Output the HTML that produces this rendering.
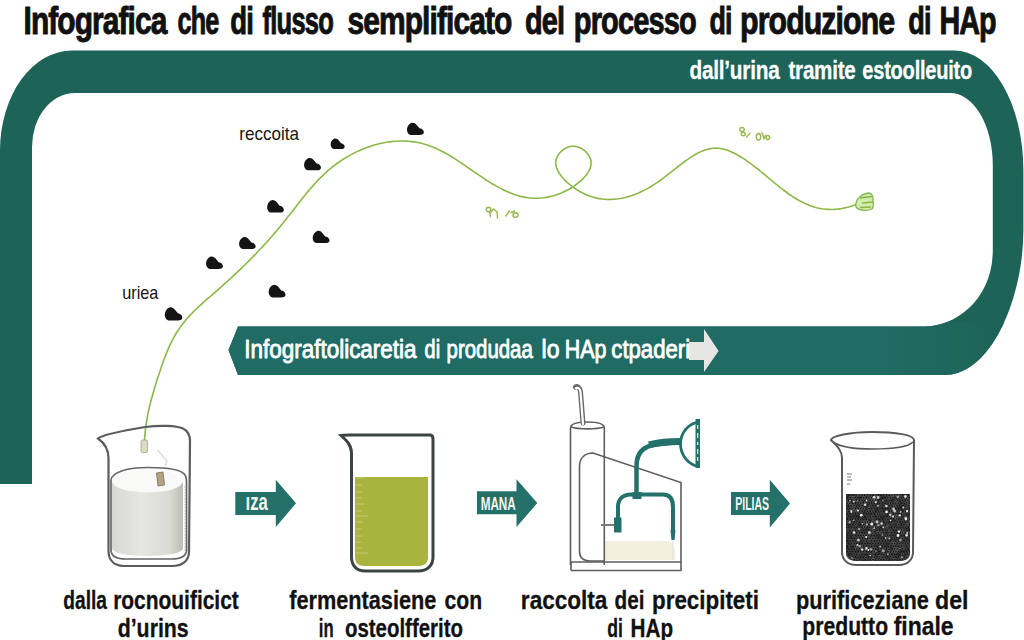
<!DOCTYPE html>
<html><head><meta charset="utf-8">
<style>
html,body{margin:0;padding:0;background:#ffffff;width:1024px;height:640px;overflow:hidden;}
svg{display:block;}
text{font-family:"Liberation Sans",sans-serif;}
</style></head>
<body>
<svg width="1024" height="640" viewBox="0 0 1024 640">
<defs>
<linearGradient id="cyl" x1="0" x2="1" y1="0" y2="0">
<stop offset="0" stop-color="#d8d8d2"/><stop offset="0.4" stop-color="#e6e6e2"/><stop offset="0.8" stop-color="#dcdcd6"/><stop offset="1" stop-color="#bdbdb5"/>
</linearGradient>
<clipPath id="b4clip"><path d="M846,494 L910,494 L910,553 C910,559 905,561 899,561 L857,561 C851,561 846,559 846,553 Z"/></clipPath>
<linearGradient id="bandlow" gradientUnits="userSpaceOnUse" x1="228" y1="0" x2="1023" y2="0">
<stop offset="0" stop-color="#206c65"/><stop offset="0.8" stop-color="#206c65"/><stop offset="0.97" stop-color="#1e6357"/>
</linearGradient>
<clipPath id="lowclip"><rect x="200" y="322" width="824" height="60"/></clipPath>
</defs>
<!-- band -->
<path fill="#1e6357" d="M0,484 L0,150 A72,100 0 0 1 72,50.5 L954,50.5 A69.4,120 0 0 1 1023.4,170 L1023.4,230 C1023.4,300 990,375 945,375 L238,375 L228.5,350 L238,326.5 L925,326.5 C955,326.5 992.8,300 992.8,250 L992.8,165 A42.8,72 0 0 0 950,93 L75,93 A43,54 0 0 0 32,147 L32,484 Z"/>
<path fill="url(#bandlow)" clip-path="url(#lowclip)" d="M0,484 L0,150 A72,100 0 0 1 72,50.5 L954,50.5 A69.4,120 0 0 1 1023.4,170 L1023.4,230 C1023.4,300 990,375 945,375 L238,375 L228.5,350 L238,326.5 L925,326.5 C955,326.5 992.8,300 992.8,250 L992.8,165 A42.8,72 0 0 0 950,93 L75,93 A43,54 0 0 0 32,147 L32,484 Z"/>
<path fill="#e6e6e4" d="M689,342 L704,342 L704,329 L718.6,351 L704,372 L704,360 L689,360 Z"/>
<!-- curve -->
<path fill="none" stroke="#8cb848" stroke-width="1.6" stroke-linecap="round" d="M144.5,441.0 L144.6,438.4 L144.8,435.8 L145.0,433.2 L145.3,430.7 L145.6,428.1 L145.9,425.5 L146.3,423.0 L146.7,420.5 L147.2,417.9 L147.6,415.4 L148.2,412.9 L148.7,410.3 L149.3,407.8 L149.8,405.3 L150.5,402.8 L151.1,400.3 L151.8,397.8 L152.5,395.3 L153.2,392.8 L153.9,390.3 L154.6,387.8 L155.4,385.3 L156.2,382.8 L156.9,380.3 L157.7,377.8 L158.5,375.4 L159.4,372.9 L160.2,370.4 L161.0,367.9 L161.9,365.4 L162.8,362.9 L163.6,360.5 L164.6,358.0 L165.5,355.6 L166.5,353.1 L167.5,350.7 L168.5,348.3 L169.5,346.0 L170.6,343.6 L171.8,341.3 L173.0,339.0 L174.2,336.8 L175.5,334.5 L176.8,332.3 L178.2,330.2 L179.6,328.1 L181.1,326.0 L182.6,323.9 L184.2,321.9 L185.8,320.0 L187.5,318.0 L189.3,316.1 L191.0,314.2 L192.8,312.4 L194.7,310.5 L196.6,308.7 L198.4,306.9 L200.4,305.2 L202.3,303.4 L204.3,301.7 L206.2,299.9 L208.2,298.2 L210.2,296.5 L212.2,294.8 L214.1,293.1 L216.1,291.3 L218.1,289.6 L220.1,287.9 L222.0,286.2 L223.9,284.4 L225.9,282.7 L227.8,281.0 L229.7,279.2 L231.6,277.5 L233.5,275.7 L235.4,273.9 L237.3,272.2 L239.2,270.4 L241.0,268.6 L242.9,266.8 L244.7,265.0 L246.5,263.2 L248.4,261.4 L250.2,259.6 L252.0,257.7 L253.8,255.9 L255.6,254.1 L257.3,252.2 L259.1,250.3 L260.9,248.5 L262.6,246.6 L264.3,244.7 L266.1,242.8 L267.8,240.9 L269.5,239.0 L271.2,237.0 L272.9,235.1 L274.6,233.1 L276.3,231.2 L277.9,229.2 L279.6,227.2 L281.2,225.2 L282.9,223.2 L284.5,221.2 L286.1,219.2 L287.7,217.1 L289.4,215.1 L291.0,213.0 L292.6,211.0 L294.2,208.9 L295.8,206.9 L297.4,204.8 L299.0,202.7 L300.6,200.7 L302.2,198.6 L303.9,196.6 L305.5,194.6 L307.2,192.5 L308.8,190.5 L310.5,188.5 L312.2,186.6 L314.0,184.6 L315.7,182.7 L317.5,180.8 L319.3,178.9 L321.1,177.1 L323.0,175.3 L324.9,173.5 L326.8,171.7 L328.8,170.0 L330.8,168.3 L332.8,166.7 L334.8,165.1 L336.9,163.5 L339.1,162.0 L341.2,160.6 L343.4,159.1 L345.7,157.7 L347.9,156.4 L350.2,155.1 L352.5,153.9 L354.8,152.7 L357.1,151.6 L359.5,150.5 L361.9,149.4 L364.3,148.5 L366.7,147.5 L369.1,146.7 L371.6,145.9 L374.0,145.1 L376.5,144.4 L379.0,143.8 L381.5,143.2 L384.0,142.7 L386.5,142.3 L389.0,141.9 L391.5,141.6 L394.0,141.3 L396.5,141.2 L399.0,141.0 L401.5,141.0 L404.1,141.0 L406.6,141.1 L409.0,141.3 L411.5,141.6 L414.0,141.9 L416.5,142.3 L419.0,142.8 L421.4,143.3 L423.8,144.0 L426.2,144.7 L428.7,145.5 L431.0,146.4 L433.4,147.3 L435.8,148.3 L438.1,149.4 L440.4,150.5 L442.8,151.7 L445.1,153.0 L447.4,154.3 L449.7,155.6 L452.0,157.0 L454.2,158.4 L456.5,159.9 L458.8,161.4 L461.0,162.9 L463.3,164.4 L465.5,165.9 L467.8,167.5 L470.0,169.0 L472.3,170.6 L474.5,172.1 L476.8,173.7 L479.0,175.2 L481.3,176.7 L483.5,178.2 L485.8,179.7 L488.1,181.1 L490.3,182.6 L492.6,184.0 L494.9,185.3 L497.2,186.6 L499.5,187.9 L501.8,189.1 L504.1,190.2 L506.5,191.3 L508.8,192.3 L511.2,193.3 L513.6,194.2 L516.0,195.0 L518.4,195.7 L520.8,196.4 L523.2,196.9 L525.7,197.4 L528.2,197.8 L530.7,198.0 L533.2,198.2 L535.7,198.3 L538.3,198.2 L540.8,198.0 L543.4,197.8 L546.0,197.4 L548.5,196.9 L551.1,196.3 L553.7,195.7 L556.3,194.8 L558.8,193.9 L561.4,192.9 L563.9,191.8 L566.4,190.5 L568.9,189.2 L571.3,187.7 L573.8,186.2 L576.2,184.5 L578.5,182.7 L580.7,180.8 L582.8,178.9 L584.7,176.8 L586.5,174.8 L588.0,172.6 L589.2,170.4 L590.2,168.2 L590.8,166.0 L591.1,163.8 L591.1,161.5 L590.6,159.3 L589.7,157.1 L588.5,155.0 L587.0,153.0 L585.2,151.2 L583.2,149.6 L581.0,148.2 L578.7,147.2 L576.3,146.5 L573.9,146.2 L571.4,146.3 L569.0,146.8 L566.7,147.7 L564.4,148.9 L562.3,150.4 L560.5,152.1 L558.9,154.0 L557.5,156.1 L556.5,158.3 L555.9,160.6 L555.7,162.9 L555.9,165.3 L556.5,167.6 L557.4,169.9 L558.6,172.3 L560.1,174.6 L561.8,176.8 L563.7,179.0 L565.8,181.1 L568.0,183.1 L570.3,185.0 L572.6,186.9 L575.0,188.5 L577.4,190.1 L579.8,191.5 L582.2,192.8 L584.6,194.0 L587.0,195.0 L589.5,196.0 L591.9,196.8 L594.4,197.5 L596.8,198.1 L599.3,198.6 L601.8,199.0 L604.2,199.2 L606.7,199.4 L609.2,199.5 L611.7,199.4 L614.1,199.3 L616.6,199.0 L619.1,198.7 L621.5,198.3 L624.0,197.8 L626.5,197.2 L628.9,196.5 L631.4,195.7 L633.8,194.8 L636.3,193.9 L638.7,192.9 L641.1,191.8 L643.5,190.6 L645.9,189.4 L648.3,188.1 L650.7,186.7 L653.0,185.2 L655.4,183.7 L657.7,182.1 L660.0,180.5 L662.3,178.8 L664.6,177.1 L666.9,175.4 L669.1,173.6 L671.4,171.8 L673.6,170.1 L675.9,168.3 L678.1,166.5 L680.3,164.8 L682.5,163.1 L684.7,161.5 L687.0,159.9 L689.2,158.3 L691.4,156.9 L693.6,155.5 L695.8,154.2 L698.0,153.0 L700.2,151.9 L702.5,151.0 L704.7,150.1 L706.9,149.4 L709.2,148.9 L711.4,148.5 L713.7,148.2 L715.9,148.1 L718.2,148.2 L720.5,148.5 L722.8,149.0 L725.1,149.6 L727.5,150.3 L729.8,151.2 L732.1,152.2 L734.4,153.3 L736.7,154.5 L739.0,155.8 L741.3,157.2 L743.6,158.7 L745.9,160.2 L748.1,161.8 L750.4,163.4 L752.6,165.1 L754.8,166.8 L757.0,168.5 L759.1,170.2 L761.3,172.0 L763.4,173.7 L765.5,175.4 L767.6,177.2 L769.7,178.9 L771.8,180.6 L773.8,182.3 L775.9,184.0 L778.0,185.7 L780.0,187.3 L782.1,188.9 L784.1,190.5 L786.2,192.0 L788.2,193.5 L790.3,195.0 L792.4,196.4 L794.5,197.7 L796.6,199.0 L798.7,200.3 L800.9,201.4 L803.0,202.5 L805.2,203.6 L807.4,204.6 L809.7,205.5 L811.9,206.3 L814.2,207.0 L816.5,207.7 L818.9,208.2 L821.3,208.7 L823.7,209.0 L826.2,209.3 L828.7,209.4 L831.2,209.5 L833.8,209.4 L836.4,209.2 L839.1,208.9 L841.8,208.5 L844.6,207.9 L847.5,207.2 L850.3,206.4 L853.3,205.5 L856.3,204.4"/>
<path fill="#d2ecae" stroke="#86b64c" stroke-width="1.3" d="M856,203 C857,198 862,194 868,193 C872,193 873.5,196 873,200 C873.5,203 873.5,207 872,209 C868,211 860,211 857,208 C855.5,206.5 855.5,204.5 856,203 Z"/>
<path fill="none" stroke="#86b64c" stroke-width="1.4" d="M860,198 L872,196.5 M862,203 L873,202 M860,207.5 L871,207"/>
<g fill="none" stroke="#98b84e" stroke-width="1.4" stroke-linecap="round">
<circle cx="488.5" cy="209.5" r="2.3"/>
<path d="M489.5,211.5 L490.5,216.5 M490.5,212.5 L493.5,209 L496,211 M497,211.5 L497.5,218"/>
<path d="M505.8,216 L509.5,211 M511,212.5 L514.5,211"/>
<ellipse cx="515.5" cy="215" rx="2.6" ry="2.2"/>
<ellipse cx="742" cy="129.5" rx="2.2" ry="2"/>
<ellipse cx="743.3" cy="134" rx="2" ry="1.8"/>
<path d="M746.5,137 L749.8,133.5"/>
<ellipse cx="758.5" cy="136.8" rx="2.2" ry="3.3"/>
<path d="M762,133 L764,138.5 L765.5,135.5"/>
<ellipse cx="767.8" cy="137.5" rx="1.8" ry="2"/>
</g>
<!-- blobs -->
<path transform="translate(329.7,138.2) scale(0.839,0.823)" fill="#141414" d="M2.2,11.2 C0.3,8.5 1,3.2 4.8,1 C7,-0.2 9.2,0.8 10.8,2.8 L13.6,6.2 C16.4,6.6 18.2,8.8 17.8,10.9 C17.4,12.6 15.6,13 13.5,13 L5,13 C3.6,13 2.8,12.2 2.2,11.2 Z"/><path transform="translate(302.9,157.5) scale(1.011,0.977)" fill="#141414" d="M2.2,11.2 C0.3,8.5 1,3.2 4.8,1 C7,-0.2 9.2,0.8 10.8,2.8 L13.6,6.2 C16.4,6.6 18.2,8.8 17.8,10.9 C17.4,12.6 15.6,13 13.5,13 L5,13 C3.6,13 2.8,12.2 2.2,11.2 Z"/><path transform="translate(266.0,199.4) scale(1.000,1.008)" fill="#141414" d="M2.2,11.2 C0.3,8.5 1,3.2 4.8,1 C7,-0.2 9.2,0.8 10.8,2.8 L13.6,6.2 C16.4,6.6 18.2,8.8 17.8,10.9 C17.4,12.6 15.6,13 13.5,13 L5,13 C3.6,13 2.8,12.2 2.2,11.2 Z"/><path transform="translate(238.0,236.5) scale(0.989,0.962)" fill="#141414" d="M2.2,11.2 C0.3,8.5 1,3.2 4.8,1 C7,-0.2 9.2,0.8 10.8,2.8 L13.6,6.2 C16.4,6.6 18.2,8.8 17.8,10.9 C17.4,12.6 15.6,13 13.5,13 L5,13 C3.6,13 2.8,12.2 2.2,11.2 Z"/><path transform="translate(204.9,256.0) scale(1.011,0.992)" fill="#141414" d="M2.2,11.2 C0.3,8.5 1,3.2 4.8,1 C7,-0.2 9.2,0.8 10.8,2.8 L13.6,6.2 C16.4,6.6 18.2,8.8 17.8,10.9 C17.4,12.6 15.6,13 13.5,13 L5,13 C3.6,13 2.8,12.2 2.2,11.2 Z"/><path transform="translate(311.5,230.4) scale(1.011,0.977)" fill="#141414" d="M2.2,11.2 C0.3,8.5 1,3.2 4.8,1 C7,-0.2 9.2,0.8 10.8,2.8 L13.6,6.2 C16.4,6.6 18.2,8.8 17.8,10.9 C17.4,12.6 15.6,13 13.5,13 L5,13 C3.6,13 2.8,12.2 2.2,11.2 Z"/><path transform="translate(267.5,284.3) scale(1.011,1.008)" fill="#141414" d="M2.2,11.2 C0.3,8.5 1,3.2 4.8,1 C7,-0.2 9.2,0.8 10.8,2.8 L13.6,6.2 C16.4,6.6 18.2,8.8 17.8,10.9 C17.4,12.6 15.6,13 13.5,13 L5,13 C3.6,13 2.8,12.2 2.2,11.2 Z"/><path transform="translate(163.6,306.7) scale(1.050,1.054)" fill="#141414" d="M2.2,11.2 C0.3,8.5 1,3.2 4.8,1 C7,-0.2 9.2,0.8 10.8,2.8 L13.6,6.2 C16.4,6.6 18.2,8.8 17.8,10.9 C17.4,12.6 15.6,13 13.5,13 L5,13 C3.6,13 2.8,12.2 2.2,11.2 Z"/><path transform="translate(405.8,122.3) scale(1.011,0.969)" fill="#141414" d="M2.2,11.2 C0.3,8.5 1,3.2 4.8,1 C7,-0.2 9.2,0.8 10.8,2.8 L13.6,6.2 C16.4,6.6 18.2,8.8 17.8,10.9 C17.4,12.6 15.6,13 13.5,13 L5,13 C3.6,13 2.8,12.2 2.2,11.2 Z"/>
<!-- labels -->


<!-- beaker 1 -->
<path fill="none" stroke="#5c5c5c" stroke-width="2.2" d="M98,438.5 C101,436 115,432 145,427 C160,425 176,425.5 183,428.5 C188,431 190,435 190,441 L189,552 C189,561 182,566 172,566 L125,566 C114,566 108.5,560 108.5,551 L108.5,458 C108.5,448 103,442 98,438.5 Z"/>
<path fill="url(#cyl)" d="M112,481 L183,481 L183,548 C183,553 168,556 147.5,556 C127,556 112,553 112,548 Z"/>
<ellipse cx="147.5" cy="481" rx="35.5" ry="11.5" fill="#f9f9f7"/>
<path fill="none" stroke="#666" stroke-width="1.7" d="M111,480 C112,472 128,467.5 148,467.5 C168,467.5 182,470 185,475 C186.5,477 186.5,479 186.5,483 L186.5,550 C186.5,556 181,559 171,559 L126,559 C116,559 111,556 111,550 Z"/>
<path fill="none" stroke="#b8b8b0" stroke-width="1" stroke-dasharray="1.5,1.5" d="M185,486 L185,552"/>
<rect x="141" y="440" width="6.5" height="12.5" rx="1.5" fill="#dcdcc4" stroke="#a6a48a" stroke-width="0.8"/>
<path d="M157.5,450 L167,461 L165,466" fill="none" stroke="#dcdcd0" stroke-width="1.3"/>
<path d="M156.5,473 L163,472 L164.5,485 L158,486 Z" fill="#b0a282" stroke="#7a6e52" stroke-width="0.8"/>

<!-- arrow 1 -->
<path fill="#237169" d="M235.3,491.9 L275.8,491.9 L275.8,479.8 L296,503.35 L275.8,526.9 L275.8,514.9 L235.3,514.9 Z"/>

<!-- beaker 2 -->
<path fill="#a9b43e" d="M355,477 L428,477 L428,558 C428,563 424,566 419,566 L364,566 C359,566 355,563 355,558 Z"/>
<g stroke="#c9cf80" stroke-width="0.8">
<path d="M356,478 h8 M356,485 h6 M356,492 h7 M356,498 h6 M356,504 h8 M356,511 h6 M356,516 h12 M356,522 h7 M356,529 h6 M356,536 h7 M356,542 h6 M356,548 h6 M356,553 h12"/>
</g>
<path fill="none" stroke="#3d4343" stroke-width="3" d="M341,435.5 C343,435 346,435 350,435 L430,435 C432,435 433,437 433,439 L433,557 C433,566 427,571 418,571 L365,571 C357,571 351.5,566 351.5,557 L351.5,453 C351.5,445 346,440 341,435.5 Z"/>

<!-- arrow 2 -->
<path fill="#237169" d="M477,491.3 L516.5,491.3 L516.5,479.3 L537.3,503.1 L516.5,526.9 L516.5,514.3 L477,514.3 Z"/>

<!-- apparatus -->
<path fill="#f3f1de" d="M604,541 L666,541 C671,541 675,545 675,551 L675,560 L604,560 Z"/>
<g fill="none" stroke="#5e5e5e" stroke-width="1.6">
<path d="M570.5,565 L570.5,428 C570.5,424 576,422 587.5,422 C599,422 604.3,424 604.3,428 L604.3,565"/>
<path d="M571,427 C578,429.5 597,429.5 604,427"/>
<path d="M604,561 L590,561 C583,561 579.5,557 579.5,551 L579.5,466 C579.5,458 585,453 593,453 L681,482.5 L681,571"/>
<path d="M571,562 L681,562 M571,570.5 L681,570.5 M571,562 L571,570.5"/>
</g>
<path fill="none" stroke="#6a6a6a" stroke-width="5" stroke-linecap="round" d="M583,423 L580.5,392 C580,387 577,386 575.5,387"/>
<path fill="none" stroke="#ffffff" stroke-width="2.2" stroke-linecap="round" d="M583,424 L580.5,392 C580,388 578,387.5 576,388"/>
<g fill="none" stroke="#24706a" stroke-linecap="butt">
<path stroke-width="4" d="M618,522 L618,507 C618,499 623,494.5 631,494.5 L663,494.5 C670,494.5 673,499 673,507 L673,533"/>
<path stroke-width="4.5" d="M636.5,495 L636.5,466 C636.5,452 644,446 656,444.5 L681,441.5"/>
<path stroke-width="7" d="M649,444.8 C660,442 670,441.5 681,441.5"/>
<path stroke-width="2.8" d="M696,422.5 C685,426 680.5,436 680.5,444 C680.5,452 685,462 696,466"/>
</g>
<path fill="#24706a" d="M670.5,530 L675.5,530 L674.5,540 L671.5,540 Z"/>
<rect x="614" y="517.5" width="7.5" height="15" fill="#24706a"/>
<rect x="632.5" y="492" width="9" height="7" fill="#24706a"/>
<path stroke="#7a7a7a" stroke-width="2" d="M601,525 L614,525"/>
<rect x="695.5" y="419" width="4.5" height="49" fill="#24706a"/>
<path stroke="#e8f0ee" stroke-width="1.2" d="M697.7,425 v4 M697.7,433 v5 M697.7,442 v3 M697.7,449 v5 M697.7,457 v4"/>
<path stroke="#e0e0e0" stroke-width="1" d="M673,540 L673,560"/>

<!-- arrow 3 -->
<path fill="#237169" d="M731,491.9 L769.8,491.9 L769.8,479.8 L790,503.6 L769.8,527.4 L769.8,514.9 L731,514.9 Z"/>

<!-- beaker 4 -->
<path fill="#ffffff" stroke="#5a5a5a" stroke-width="2" d="M831,440 C831,436 850,432 872,432 C896,432 914,435 914,440 L913,552 C913,560 907,565 899,565 L856,565 C848,565 842,560 842,552 L842,458 C842,450 836,445 831,440 Z"/>
<path fill="none" stroke="#5a5a5a" stroke-width="1.6" d="M833,442 C840,447 856,449 873,449 C892,449 908,447 913,442"/>
<g clip-path="url(#b4clip)">
<rect x="846" y="494" width="64" height="67" fill="#101010"/>
<circle cx="845.8" cy="495.0" r="1.25" fill="none" stroke="rgb(85,85,85)" stroke-width="0.6"/><circle cx="848.8" cy="495.1" r="1.25" fill="none" stroke="rgb(70,70,70)" stroke-width="0.6"/><circle cx="851.0" cy="495.3" r="1.25" fill="none" stroke="rgb(80,80,80)" stroke-width="0.6"/><circle cx="853.9" cy="495.4" r="1.25" fill="none" stroke="rgb(89,89,89)" stroke-width="0.6"/><circle cx="857.1" cy="495.0" r="1.25" fill="none" stroke="rgb(98,98,98)" stroke-width="0.6"/><circle cx="859.2" cy="495.1" r="1.25" fill="none" stroke="rgb(114,114,114)" stroke-width="0.6"/><circle cx="862.2" cy="495.2" r="1.25" fill="none" stroke="rgb(100,100,100)" stroke-width="0.6"/><circle cx="864.6" cy="495.2" r="1.25" fill="none" stroke="rgb(95,95,95)" stroke-width="0.6"/><circle cx="867.4" cy="494.6" r="1.25" fill="none" stroke="rgb(114,114,114)" stroke-width="0.6"/><circle cx="870.3" cy="495.2" r="1.25" fill="none" stroke="rgb(115,115,115)" stroke-width="0.6"/><circle cx="873.2" cy="495.3" r="1.25" fill="none" stroke="rgb(86,86,86)" stroke-width="0.6"/><circle cx="875.9" cy="495.0" r="1.25" fill="none" stroke="rgb(122,122,122)" stroke-width="0.6"/><circle cx="878.7" cy="494.7" r="1.25" fill="none" stroke="rgb(74,74,74)" stroke-width="0.6"/><circle cx="880.9" cy="495.4" r="1.25" fill="none" stroke="rgb(87,87,87)" stroke-width="0.6"/><circle cx="883.9" cy="494.8" r="1.25" fill="none" stroke="rgb(91,91,91)" stroke-width="0.6"/><circle cx="886.4" cy="494.9" r="1.25" fill="none" stroke="rgb(95,95,95)" stroke-width="0.6"/><circle cx="889.3" cy="495.3" r="1.25" fill="none" stroke="rgb(100,100,100)" stroke-width="0.6"/><circle cx="892.2" cy="495.3" r="1.25" fill="none" stroke="rgb(133,133,133)" stroke-width="0.6"/><circle cx="894.7" cy="494.7" r="1.25" fill="none" stroke="rgb(114,114,114)" stroke-width="0.6"/><circle cx="897.7" cy="495.3" r="1.25" fill="none" stroke="rgb(94,94,94)" stroke-width="0.6"/><circle cx="900.2" cy="494.8" r="1.25" fill="none" stroke="rgb(111,111,111)" stroke-width="0.6"/><circle cx="902.8" cy="494.8" r="1.25" fill="none" stroke="rgb(70,70,70)" stroke-width="0.6"/><circle cx="905.7" cy="495.4" r="1.25" fill="none" stroke="rgb(71,71,71)" stroke-width="0.6"/><circle cx="908.3" cy="494.9" r="1.25" fill="none" stroke="rgb(75,75,75)" stroke-width="0.6"/><circle cx="910.6" cy="495.2" r="1.25" fill="none" stroke="rgb(115,115,115)" stroke-width="0.6"/><circle cx="847.0" cy="497.8" r="1.25" fill="none" stroke="rgb(68,68,68)" stroke-width="0.6"/><circle cx="850.2" cy="497.6" r="1.25" fill="none" stroke="rgb(116,116,116)" stroke-width="0.6"/><circle cx="853.1" cy="497.7" r="1.25" fill="none" stroke="rgb(137,137,137)" stroke-width="0.6"/><circle cx="855.3" cy="497.4" r="1.25" fill="none" stroke="rgb(96,96,96)" stroke-width="0.6"/><circle cx="857.8" cy="497.5" r="1.25" fill="none" stroke="rgb(86,86,86)" stroke-width="0.6"/><circle cx="860.9" cy="497.4" r="1.25" fill="none" stroke="rgb(68,68,68)" stroke-width="0.6"/><circle cx="863.8" cy="497.6" r="1.25" fill="none" stroke="rgb(125,125,125)" stroke-width="0.6"/><circle cx="866.6" cy="497.6" r="1.25" fill="none" stroke="rgb(89,89,89)" stroke-width="0.6"/><circle cx="869.0" cy="497.8" r="1.25" fill="none" stroke="rgb(95,95,95)" stroke-width="0.6"/><circle cx="871.7" cy="497.8" r="1.25" fill="none" stroke="rgb(123,123,123)" stroke-width="0.6"/><circle cx="874.4" cy="497.6" r="1.25" fill="none" stroke="rgb(103,103,103)" stroke-width="0.6"/><circle cx="876.8" cy="497.5" r="1.25" fill="none" stroke="rgb(129,129,129)" stroke-width="0.6"/><circle cx="879.8" cy="497.7" r="1.25" fill="none" stroke="rgb(64,64,64)" stroke-width="0.6"/><circle cx="882.4" cy="497.8" r="1.25" fill="none" stroke="rgb(65,65,65)" stroke-width="0.6"/><circle cx="885.2" cy="497.8" r="1.25" fill="none" stroke="rgb(69,69,69)" stroke-width="0.6"/><circle cx="888.0" cy="497.7" r="1.25" fill="none" stroke="rgb(100,100,100)" stroke-width="0.6"/><circle cx="890.4" cy="497.9" r="1.25" fill="none" stroke="rgb(104,104,104)" stroke-width="0.6"/><circle cx="892.9" cy="497.3" r="1.25" fill="none" stroke="rgb(100,100,100)" stroke-width="0.6"/><circle cx="896.3" cy="497.5" r="1.25" fill="none" stroke="rgb(88,88,88)" stroke-width="0.6"/><circle cx="898.7" cy="497.6" r="1.25" fill="none" stroke="rgb(84,84,84)" stroke-width="0.6"/><circle cx="901.2" cy="497.6" r="1.25" fill="none" stroke="rgb(95,95,95)" stroke-width="0.6"/><circle cx="903.9" cy="497.6" r="1.25" fill="none" stroke="rgb(106,106,106)" stroke-width="0.6"/><circle cx="906.4" cy="497.8" r="1.25" fill="none" stroke="rgb(104,104,104)" stroke-width="0.6"/><circle cx="909.3" cy="497.5" r="1.25" fill="none" stroke="rgb(109,109,109)" stroke-width="0.6"/><circle cx="911.9" cy="497.4" r="1.25" fill="none" stroke="rgb(87,87,87)" stroke-width="0.6"/><circle cx="846.2" cy="500.1" r="1.25" fill="none" stroke="rgb(82,82,82)" stroke-width="0.6"/><circle cx="848.6" cy="500.7" r="1.25" fill="none" stroke="rgb(88,88,88)" stroke-width="0.6"/><circle cx="851.7" cy="500.1" r="1.25" fill="none" stroke="rgb(83,83,83)" stroke-width="0.6"/><circle cx="854.2" cy="500.7" r="1.25" fill="none" stroke="rgb(88,88,88)" stroke-width="0.6"/><circle cx="856.6" cy="500.1" r="1.25" fill="none" stroke="rgb(92,92,92)" stroke-width="0.6"/><circle cx="859.3" cy="500.6" r="1.25" fill="none" stroke="rgb(112,112,112)" stroke-width="0.6"/><circle cx="861.9" cy="500.2" r="1.25" fill="none" stroke="rgb(109,109,109)" stroke-width="0.6"/><circle cx="865.0" cy="500.6" r="1.25" fill="none" stroke="rgb(83,83,83)" stroke-width="0.6"/><circle cx="867.3" cy="500.2" r="1.25" fill="none" stroke="rgb(108,108,108)" stroke-width="0.6"/><circle cx="870.1" cy="500.3" r="1.25" fill="none" stroke="rgb(87,87,87)" stroke-width="0.6"/><circle cx="872.9" cy="500.3" r="1.25" fill="none" stroke="rgb(120,120,120)" stroke-width="0.6"/><circle cx="875.4" cy="500.0" r="1.25" fill="none" stroke="rgb(123,123,123)" stroke-width="0.6"/><circle cx="878.7" cy="500.8" r="1.25" fill="none" stroke="rgb(87,87,87)" stroke-width="0.6"/><circle cx="881.5" cy="500.7" r="1.25" fill="none" stroke="rgb(78,78,78)" stroke-width="0.6"/><circle cx="884.0" cy="500.7" r="1.25" fill="none" stroke="rgb(99,99,99)" stroke-width="0.6"/><circle cx="886.5" cy="500.2" r="1.25" fill="none" stroke="rgb(83,83,83)" stroke-width="0.6"/><circle cx="889.0" cy="500.1" r="1.25" fill="none" stroke="rgb(95,95,95)" stroke-width="0.6"/><circle cx="891.7" cy="500.6" r="1.25" fill="none" stroke="rgb(68,68,68)" stroke-width="0.6"/><circle cx="894.9" cy="500.6" r="1.25" fill="none" stroke="rgb(120,120,120)" stroke-width="0.6"/><circle cx="897.6" cy="500.7" r="1.25" fill="none" stroke="rgb(94,94,94)" stroke-width="0.6"/><circle cx="899.6" cy="500.6" r="1.25" fill="none" stroke="rgb(76,76,76)" stroke-width="0.6"/><circle cx="902.5" cy="500.5" r="1.25" fill="none" stroke="rgb(92,92,92)" stroke-width="0.6"/><circle cx="905.3" cy="500.8" r="1.25" fill="none" stroke="rgb(96,96,96)" stroke-width="0.6"/><circle cx="908.0" cy="500.2" r="1.25" fill="none" stroke="rgb(114,114,114)" stroke-width="0.6"/><circle cx="910.8" cy="500.6" r="1.25" fill="none" stroke="rgb(84,84,84)" stroke-width="0.6"/><circle cx="847.1" cy="503.1" r="1.25" fill="none" stroke="rgb(110,110,110)" stroke-width="0.6"/><circle cx="849.8" cy="503.3" r="1.25" fill="none" stroke="rgb(120,120,120)" stroke-width="0.6"/><circle cx="853.0" cy="503.4" r="1.25" fill="none" stroke="rgb(63,63,63)" stroke-width="0.6"/><circle cx="855.6" cy="503.4" r="1.25" fill="none" stroke="rgb(68,68,68)" stroke-width="0.6"/><circle cx="858.0" cy="502.9" r="1.25" fill="none" stroke="rgb(92,92,92)" stroke-width="0.6"/><circle cx="860.8" cy="503.1" r="1.25" fill="none" stroke="rgb(107,107,107)" stroke-width="0.6"/><circle cx="863.2" cy="502.7" r="1.25" fill="none" stroke="rgb(74,74,74)" stroke-width="0.6"/><circle cx="865.9" cy="502.8" r="1.25" fill="none" stroke="rgb(128,128,128)" stroke-width="0.6"/><circle cx="869.2" cy="502.8" r="1.25" fill="none" stroke="rgb(91,91,91)" stroke-width="0.6"/><circle cx="871.5" cy="503.0" r="1.25" fill="none" stroke="rgb(84,84,84)" stroke-width="0.6"/><circle cx="874.5" cy="503.2" r="1.25" fill="none" stroke="rgb(84,84,84)" stroke-width="0.6"/><circle cx="876.8" cy="503.0" r="1.25" fill="none" stroke="rgb(74,74,74)" stroke-width="0.6"/><circle cx="879.8" cy="503.3" r="1.25" fill="none" stroke="rgb(85,85,85)" stroke-width="0.6"/><circle cx="882.1" cy="502.8" r="1.25" fill="none" stroke="rgb(85,85,85)" stroke-width="0.6"/><circle cx="885.2" cy="503.3" r="1.25" fill="none" stroke="rgb(85,85,85)" stroke-width="0.6"/><circle cx="888.1" cy="503.2" r="1.25" fill="none" stroke="rgb(87,87,87)" stroke-width="0.6"/><circle cx="890.4" cy="503.1" r="1.25" fill="none" stroke="rgb(102,102,102)" stroke-width="0.6"/><circle cx="893.2" cy="503.3" r="1.25" fill="none" stroke="rgb(89,89,89)" stroke-width="0.6"/><circle cx="895.7" cy="503.1" r="1.25" fill="none" stroke="rgb(101,101,101)" stroke-width="0.6"/><circle cx="898.3" cy="503.0" r="1.25" fill="none" stroke="rgb(87,87,87)" stroke-width="0.6"/><circle cx="901.7" cy="503.4" r="1.25" fill="none" stroke="rgb(85,85,85)" stroke-width="0.6"/><circle cx="904.4" cy="503.3" r="1.25" fill="none" stroke="rgb(80,80,80)" stroke-width="0.6"/><circle cx="906.7" cy="502.8" r="1.25" fill="none" stroke="rgb(110,110,110)" stroke-width="0.6"/><circle cx="909.6" cy="503.4" r="1.25" fill="none" stroke="rgb(108,108,108)" stroke-width="0.6"/><circle cx="912.3" cy="503.3" r="1.25" fill="none" stroke="rgb(94,94,94)" stroke-width="0.6"/><circle cx="845.7" cy="505.9" r="1.25" fill="none" stroke="rgb(62,62,62)" stroke-width="0.6"/><circle cx="848.4" cy="506.0" r="1.25" fill="none" stroke="rgb(68,68,68)" stroke-width="0.6"/><circle cx="851.1" cy="505.5" r="1.25" fill="none" stroke="rgb(116,116,116)" stroke-width="0.6"/><circle cx="853.8" cy="505.4" r="1.25" fill="none" stroke="rgb(112,112,112)" stroke-width="0.6"/><circle cx="856.5" cy="506.1" r="1.25" fill="none" stroke="rgb(100,100,100)" stroke-width="0.6"/><circle cx="859.8" cy="506.2" r="1.25" fill="none" stroke="rgb(95,95,95)" stroke-width="0.6"/><circle cx="862.4" cy="505.4" r="1.25" fill="none" stroke="rgb(106,106,106)" stroke-width="0.6"/><circle cx="864.9" cy="506.0" r="1.25" fill="none" stroke="rgb(73,73,73)" stroke-width="0.6"/><circle cx="867.8" cy="506.1" r="1.25" fill="none" stroke="rgb(69,69,69)" stroke-width="0.6"/><circle cx="870.2" cy="505.9" r="1.25" fill="none" stroke="rgb(111,111,111)" stroke-width="0.6"/><circle cx="872.8" cy="505.5" r="1.25" fill="none" stroke="rgb(79,79,79)" stroke-width="0.6"/><circle cx="875.8" cy="506.0" r="1.25" fill="none" stroke="rgb(86,86,86)" stroke-width="0.6"/><circle cx="878.3" cy="505.7" r="1.25" fill="none" stroke="rgb(84,84,84)" stroke-width="0.6"/><circle cx="881.0" cy="505.5" r="1.25" fill="none" stroke="rgb(91,91,91)" stroke-width="0.6"/><circle cx="884.2" cy="505.7" r="1.25" fill="none" stroke="rgb(105,105,105)" stroke-width="0.6"/><circle cx="886.2" cy="506.0" r="1.25" fill="none" stroke="rgb(105,105,105)" stroke-width="0.6"/><circle cx="889.3" cy="505.8" r="1.25" fill="none" stroke="rgb(90,90,90)" stroke-width="0.6"/><circle cx="892.0" cy="506.1" r="1.25" fill="none" stroke="rgb(75,75,75)" stroke-width="0.6"/><circle cx="894.3" cy="506.0" r="1.25" fill="none" stroke="rgb(119,119,119)" stroke-width="0.6"/><circle cx="897.3" cy="505.8" r="1.25" fill="none" stroke="rgb(103,103,103)" stroke-width="0.6"/><circle cx="899.7" cy="505.6" r="1.25" fill="none" stroke="rgb(77,77,77)" stroke-width="0.6"/><circle cx="902.8" cy="505.7" r="1.25" fill="none" stroke="rgb(79,79,79)" stroke-width="0.6"/><circle cx="905.6" cy="506.2" r="1.25" fill="none" stroke="rgb(81,81,81)" stroke-width="0.6"/><circle cx="908.3" cy="505.7" r="1.25" fill="none" stroke="rgb(113,113,113)" stroke-width="0.6"/><circle cx="910.9" cy="505.6" r="1.25" fill="none" stroke="rgb(78,78,78)" stroke-width="0.6"/><circle cx="847.0" cy="508.5" r="1.25" fill="none" stroke="rgb(85,85,85)" stroke-width="0.6"/><circle cx="849.8" cy="508.4" r="1.25" fill="none" stroke="rgb(82,82,82)" stroke-width="0.6"/><circle cx="853.0" cy="508.2" r="1.25" fill="none" stroke="rgb(133,133,133)" stroke-width="0.6"/><circle cx="855.4" cy="508.6" r="1.25" fill="none" stroke="rgb(89,89,89)" stroke-width="0.6"/><circle cx="858.4" cy="508.8" r="1.25" fill="none" stroke="rgb(93,93,93)" stroke-width="0.6"/><circle cx="860.8" cy="508.7" r="1.25" fill="none" stroke="rgb(113,113,113)" stroke-width="0.6"/><circle cx="863.5" cy="508.7" r="1.25" fill="none" stroke="rgb(126,126,126)" stroke-width="0.6"/><circle cx="866.2" cy="508.3" r="1.25" fill="none" stroke="rgb(79,79,79)" stroke-width="0.6"/><circle cx="869.1" cy="508.6" r="1.25" fill="none" stroke="rgb(125,125,125)" stroke-width="0.6"/><circle cx="871.9" cy="508.3" r="1.25" fill="none" stroke="rgb(77,77,77)" stroke-width="0.6"/><circle cx="874.2" cy="508.2" r="1.25" fill="none" stroke="rgb(102,102,102)" stroke-width="0.6"/><circle cx="877.3" cy="508.8" r="1.25" fill="none" stroke="rgb(80,80,80)" stroke-width="0.6"/><circle cx="880.0" cy="508.4" r="1.25" fill="none" stroke="rgb(87,87,87)" stroke-width="0.6"/><circle cx="882.6" cy="508.2" r="1.25" fill="none" stroke="rgb(72,72,72)" stroke-width="0.6"/><circle cx="885.4" cy="508.3" r="1.25" fill="none" stroke="rgb(84,84,84)" stroke-width="0.6"/><circle cx="887.9" cy="508.6" r="1.25" fill="none" stroke="rgb(63,63,63)" stroke-width="0.6"/><circle cx="890.4" cy="508.4" r="1.25" fill="none" stroke="rgb(90,90,90)" stroke-width="0.6"/><circle cx="893.0" cy="508.6" r="1.25" fill="none" stroke="rgb(125,125,125)" stroke-width="0.6"/><circle cx="895.9" cy="508.5" r="1.25" fill="none" stroke="rgb(73,73,73)" stroke-width="0.6"/><circle cx="898.5" cy="508.6" r="1.25" fill="none" stroke="rgb(73,73,73)" stroke-width="0.6"/><circle cx="901.7" cy="508.8" r="1.25" fill="none" stroke="rgb(72,72,72)" stroke-width="0.6"/><circle cx="904.4" cy="508.4" r="1.25" fill="none" stroke="rgb(106,106,106)" stroke-width="0.6"/><circle cx="907.0" cy="508.3" r="1.25" fill="none" stroke="rgb(100,100,100)" stroke-width="0.6"/><circle cx="909.6" cy="508.7" r="1.25" fill="none" stroke="rgb(80,80,80)" stroke-width="0.6"/><circle cx="912.4" cy="508.9" r="1.25" fill="none" stroke="rgb(100,100,100)" stroke-width="0.6"/><circle cx="846.0" cy="510.9" r="1.25" fill="none" stroke="rgb(90,90,90)" stroke-width="0.6"/><circle cx="848.6" cy="511.4" r="1.25" fill="none" stroke="rgb(100,100,100)" stroke-width="0.6"/><circle cx="851.5" cy="510.9" r="1.25" fill="none" stroke="rgb(98,98,98)" stroke-width="0.6"/><circle cx="854.2" cy="510.9" r="1.25" fill="none" stroke="rgb(117,117,117)" stroke-width="0.6"/><circle cx="856.9" cy="510.9" r="1.25" fill="none" stroke="rgb(121,121,121)" stroke-width="0.6"/><circle cx="859.2" cy="511.1" r="1.25" fill="none" stroke="rgb(103,103,103)" stroke-width="0.6"/><circle cx="862.3" cy="511.2" r="1.25" fill="none" stroke="rgb(98,98,98)" stroke-width="0.6"/><circle cx="864.9" cy="511.0" r="1.25" fill="none" stroke="rgb(76,76,76)" stroke-width="0.6"/><circle cx="867.3" cy="511.4" r="1.25" fill="none" stroke="rgb(105,105,105)" stroke-width="0.6"/><circle cx="870.3" cy="511.4" r="1.25" fill="none" stroke="rgb(84,84,84)" stroke-width="0.6"/><circle cx="872.8" cy="511.1" r="1.25" fill="none" stroke="rgb(115,115,115)" stroke-width="0.6"/><circle cx="875.3" cy="511.2" r="1.25" fill="none" stroke="rgb(79,79,79)" stroke-width="0.6"/><circle cx="878.6" cy="511.1" r="1.25" fill="none" stroke="rgb(83,83,83)" stroke-width="0.6"/><circle cx="881.0" cy="511.2" r="1.25" fill="none" stroke="rgb(106,106,106)" stroke-width="0.6"/><circle cx="883.7" cy="511.5" r="1.25" fill="none" stroke="rgb(73,73,73)" stroke-width="0.6"/><circle cx="886.3" cy="510.9" r="1.25" fill="none" stroke="rgb(73,73,73)" stroke-width="0.6"/><circle cx="889.4" cy="511.4" r="1.25" fill="none" stroke="rgb(77,77,77)" stroke-width="0.6"/><circle cx="891.7" cy="511.1" r="1.25" fill="none" stroke="rgb(104,104,104)" stroke-width="0.6"/><circle cx="894.9" cy="511.4" r="1.25" fill="none" stroke="rgb(95,95,95)" stroke-width="0.6"/><circle cx="897.0" cy="511.1" r="1.25" fill="none" stroke="rgb(77,77,77)" stroke-width="0.6"/><circle cx="900.0" cy="511.3" r="1.25" fill="none" stroke="rgb(77,77,77)" stroke-width="0.6"/><circle cx="902.5" cy="511.4" r="1.25" fill="none" stroke="rgb(66,66,66)" stroke-width="0.6"/><circle cx="905.6" cy="511.5" r="1.25" fill="none" stroke="rgb(124,124,124)" stroke-width="0.6"/><circle cx="908.0" cy="511.2" r="1.25" fill="none" stroke="rgb(95,95,95)" stroke-width="0.6"/><circle cx="910.9" cy="511.6" r="1.25" fill="none" stroke="rgb(101,101,101)" stroke-width="0.6"/><circle cx="847.2" cy="514.2" r="1.25" fill="none" stroke="rgb(90,90,90)" stroke-width="0.6"/><circle cx="850.1" cy="514.1" r="1.25" fill="none" stroke="rgb(61,61,61)" stroke-width="0.6"/><circle cx="853.0" cy="514.0" r="1.25" fill="none" stroke="rgb(90,90,90)" stroke-width="0.6"/><circle cx="855.5" cy="513.9" r="1.25" fill="none" stroke="rgb(77,77,77)" stroke-width="0.6"/><circle cx="858.2" cy="513.5" r="1.25" fill="none" stroke="rgb(91,91,91)" stroke-width="0.6"/><circle cx="861.0" cy="513.9" r="1.25" fill="none" stroke="rgb(94,94,94)" stroke-width="0.6"/><circle cx="863.9" cy="514.2" r="1.25" fill="none" stroke="rgb(74,74,74)" stroke-width="0.6"/><circle cx="866.5" cy="514.0" r="1.25" fill="none" stroke="rgb(68,68,68)" stroke-width="0.6"/><circle cx="868.8" cy="513.7" r="1.25" fill="none" stroke="rgb(71,71,71)" stroke-width="0.6"/><circle cx="871.7" cy="514.2" r="1.25" fill="none" stroke="rgb(82,82,82)" stroke-width="0.6"/><circle cx="874.6" cy="514.1" r="1.25" fill="none" stroke="rgb(74,74,74)" stroke-width="0.6"/><circle cx="877.3" cy="514.0" r="1.25" fill="none" stroke="rgb(121,121,121)" stroke-width="0.6"/><circle cx="879.9" cy="514.1" r="1.25" fill="none" stroke="rgb(83,83,83)" stroke-width="0.6"/><circle cx="882.7" cy="514.2" r="1.25" fill="none" stroke="rgb(114,114,114)" stroke-width="0.6"/><circle cx="885.1" cy="514.1" r="1.25" fill="none" stroke="rgb(90,90,90)" stroke-width="0.6"/><circle cx="887.5" cy="513.5" r="1.25" fill="none" stroke="rgb(71,71,71)" stroke-width="0.6"/><circle cx="890.3" cy="513.6" r="1.25" fill="none" stroke="rgb(90,90,90)" stroke-width="0.6"/><circle cx="893.4" cy="513.9" r="1.25" fill="none" stroke="rgb(87,87,87)" stroke-width="0.6"/><circle cx="896.1" cy="513.7" r="1.25" fill="none" stroke="rgb(89,89,89)" stroke-width="0.6"/><circle cx="898.9" cy="513.8" r="1.25" fill="none" stroke="rgb(76,76,76)" stroke-width="0.6"/><circle cx="901.7" cy="514.1" r="1.25" fill="none" stroke="rgb(84,84,84)" stroke-width="0.6"/><circle cx="903.9" cy="513.9" r="1.25" fill="none" stroke="rgb(95,95,95)" stroke-width="0.6"/><circle cx="906.5" cy="513.5" r="1.25" fill="none" stroke="rgb(78,78,78)" stroke-width="0.6"/><circle cx="909.7" cy="513.6" r="1.25" fill="none" stroke="rgb(89,89,89)" stroke-width="0.6"/><circle cx="911.9" cy="513.7" r="1.25" fill="none" stroke="rgb(76,76,76)" stroke-width="0.6"/><circle cx="845.9" cy="516.3" r="1.25" fill="none" stroke="rgb(66,66,66)" stroke-width="0.6"/><circle cx="848.4" cy="516.3" r="1.25" fill="none" stroke="rgb(90,90,90)" stroke-width="0.6"/><circle cx="851.0" cy="516.2" r="1.25" fill="none" stroke="rgb(88,88,88)" stroke-width="0.6"/><circle cx="854.0" cy="516.8" r="1.25" fill="none" stroke="rgb(69,69,69)" stroke-width="0.6"/><circle cx="856.7" cy="516.5" r="1.25" fill="none" stroke="rgb(66,66,66)" stroke-width="0.6"/><circle cx="859.9" cy="516.4" r="1.25" fill="none" stroke="rgb(72,72,72)" stroke-width="0.6"/><circle cx="862.2" cy="516.3" r="1.25" fill="none" stroke="rgb(97,97,97)" stroke-width="0.6"/><circle cx="864.8" cy="516.3" r="1.25" fill="none" stroke="rgb(69,69,69)" stroke-width="0.6"/><circle cx="867.8" cy="516.4" r="1.25" fill="none" stroke="rgb(108,108,108)" stroke-width="0.6"/><circle cx="870.3" cy="516.9" r="1.25" fill="none" stroke="rgb(82,82,82)" stroke-width="0.6"/><circle cx="872.8" cy="516.4" r="1.25" fill="none" stroke="rgb(110,110,110)" stroke-width="0.6"/><circle cx="875.8" cy="516.5" r="1.25" fill="none" stroke="rgb(72,72,72)" stroke-width="0.6"/><circle cx="878.5" cy="517.0" r="1.25" fill="none" stroke="rgb(95,95,95)" stroke-width="0.6"/><circle cx="880.7" cy="516.2" r="1.25" fill="none" stroke="rgb(72,72,72)" stroke-width="0.6"/><circle cx="883.5" cy="516.2" r="1.25" fill="none" stroke="rgb(69,69,69)" stroke-width="0.6"/><circle cx="886.6" cy="516.9" r="1.25" fill="none" stroke="rgb(77,77,77)" stroke-width="0.6"/><circle cx="889.6" cy="516.6" r="1.25" fill="none" stroke="rgb(109,109,109)" stroke-width="0.6"/><circle cx="892.2" cy="517.0" r="1.25" fill="none" stroke="rgb(67,67,67)" stroke-width="0.6"/><circle cx="894.4" cy="516.7" r="1.25" fill="none" stroke="rgb(123,123,123)" stroke-width="0.6"/><circle cx="897.0" cy="516.4" r="1.25" fill="none" stroke="rgb(113,113,113)" stroke-width="0.6"/><circle cx="899.7" cy="516.5" r="1.25" fill="none" stroke="rgb(83,83,83)" stroke-width="0.6"/><circle cx="902.8" cy="516.9" r="1.25" fill="none" stroke="rgb(76,76,76)" stroke-width="0.6"/><circle cx="905.6" cy="516.8" r="1.25" fill="none" stroke="rgb(111,111,111)" stroke-width="0.6"/><circle cx="908.1" cy="516.9" r="1.25" fill="none" stroke="rgb(84,84,84)" stroke-width="0.6"/><circle cx="910.7" cy="516.4" r="1.25" fill="none" stroke="rgb(107,107,107)" stroke-width="0.6"/><circle cx="847.3" cy="519.1" r="1.25" fill="none" stroke="rgb(76,76,76)" stroke-width="0.6"/><circle cx="850.2" cy="519.4" r="1.25" fill="none" stroke="rgb(102,102,102)" stroke-width="0.6"/><circle cx="852.7" cy="519.3" r="1.25" fill="none" stroke="rgb(75,75,75)" stroke-width="0.6"/><circle cx="855.6" cy="518.9" r="1.25" fill="none" stroke="rgb(89,89,89)" stroke-width="0.6"/><circle cx="858.4" cy="519.4" r="1.25" fill="none" stroke="rgb(72,72,72)" stroke-width="0.6"/><circle cx="860.6" cy="519.6" r="1.25" fill="none" stroke="rgb(98,98,98)" stroke-width="0.6"/><circle cx="863.9" cy="519.6" r="1.25" fill="none" stroke="rgb(88,88,88)" stroke-width="0.6"/><circle cx="866.6" cy="519.5" r="1.25" fill="none" stroke="rgb(83,83,83)" stroke-width="0.6"/><circle cx="868.8" cy="519.0" r="1.25" fill="none" stroke="rgb(86,86,86)" stroke-width="0.6"/><circle cx="872.0" cy="519.0" r="1.25" fill="none" stroke="rgb(94,94,94)" stroke-width="0.6"/><circle cx="874.0" cy="519.0" r="1.25" fill="none" stroke="rgb(98,98,98)" stroke-width="0.6"/><circle cx="876.8" cy="518.9" r="1.25" fill="none" stroke="rgb(75,75,75)" stroke-width="0.6"/><circle cx="879.9" cy="519.4" r="1.25" fill="none" stroke="rgb(64,64,64)" stroke-width="0.6"/><circle cx="882.2" cy="519.7" r="1.25" fill="none" stroke="rgb(78,78,78)" stroke-width="0.6"/><circle cx="885.2" cy="519.2" r="1.25" fill="none" stroke="rgb(107,107,107)" stroke-width="0.6"/><circle cx="887.9" cy="519.5" r="1.25" fill="none" stroke="rgb(92,92,92)" stroke-width="0.6"/><circle cx="890.3" cy="519.0" r="1.25" fill="none" stroke="rgb(71,71,71)" stroke-width="0.6"/><circle cx="893.5" cy="519.0" r="1.25" fill="none" stroke="rgb(66,66,66)" stroke-width="0.6"/><circle cx="896.3" cy="519.1" r="1.25" fill="none" stroke="rgb(117,117,117)" stroke-width="0.6"/><circle cx="898.3" cy="519.3" r="1.25" fill="none" stroke="rgb(78,78,78)" stroke-width="0.6"/><circle cx="901.6" cy="519.4" r="1.25" fill="none" stroke="rgb(98,98,98)" stroke-width="0.6"/><circle cx="904.3" cy="519.6" r="1.25" fill="none" stroke="rgb(83,83,83)" stroke-width="0.6"/><circle cx="906.8" cy="519.3" r="1.25" fill="none" stroke="rgb(73,73,73)" stroke-width="0.6"/><circle cx="909.7" cy="519.4" r="1.25" fill="none" stroke="rgb(110,110,110)" stroke-width="0.6"/><circle cx="911.9" cy="519.3" r="1.25" fill="none" stroke="rgb(89,89,89)" stroke-width="0.6"/><circle cx="846.2" cy="521.7" r="1.25" fill="none" stroke="rgb(83,83,83)" stroke-width="0.6"/><circle cx="848.7" cy="521.7" r="1.25" fill="none" stroke="rgb(93,93,93)" stroke-width="0.6"/><circle cx="851.6" cy="521.9" r="1.25" fill="none" stroke="rgb(98,98,98)" stroke-width="0.6"/><circle cx="854.2" cy="521.8" r="1.25" fill="none" stroke="rgb(84,84,84)" stroke-width="0.6"/><circle cx="857.2" cy="521.9" r="1.25" fill="none" stroke="rgb(87,87,87)" stroke-width="0.6"/><circle cx="859.2" cy="521.8" r="1.25" fill="none" stroke="rgb(76,76,76)" stroke-width="0.6"/><circle cx="862.5" cy="522.2" r="1.25" fill="none" stroke="rgb(115,115,115)" stroke-width="0.6"/><circle cx="865.3" cy="522.1" r="1.25" fill="none" stroke="rgb(121,121,121)" stroke-width="0.6"/><circle cx="867.6" cy="521.9" r="1.25" fill="none" stroke="rgb(124,124,124)" stroke-width="0.6"/><circle cx="870.6" cy="522.4" r="1.25" fill="none" stroke="rgb(90,90,90)" stroke-width="0.6"/><circle cx="873.2" cy="521.9" r="1.25" fill="none" stroke="rgb(136,136,136)" stroke-width="0.6"/><circle cx="876.0" cy="521.8" r="1.25" fill="none" stroke="rgb(122,122,122)" stroke-width="0.6"/><circle cx="878.1" cy="521.7" r="1.25" fill="none" stroke="rgb(103,103,103)" stroke-width="0.6"/><circle cx="880.9" cy="522.0" r="1.25" fill="none" stroke="rgb(98,98,98)" stroke-width="0.6"/><circle cx="883.4" cy="522.2" r="1.25" fill="none" stroke="rgb(81,81,81)" stroke-width="0.6"/><circle cx="886.4" cy="521.9" r="1.25" fill="none" stroke="rgb(104,104,104)" stroke-width="0.6"/><circle cx="889.4" cy="521.8" r="1.25" fill="none" stroke="rgb(72,72,72)" stroke-width="0.6"/><circle cx="891.7" cy="521.9" r="1.25" fill="none" stroke="rgb(71,71,71)" stroke-width="0.6"/><circle cx="894.3" cy="522.2" r="1.25" fill="none" stroke="rgb(102,102,102)" stroke-width="0.6"/><circle cx="897.7" cy="522.4" r="1.25" fill="none" stroke="rgb(115,115,115)" stroke-width="0.6"/><circle cx="899.9" cy="521.7" r="1.25" fill="none" stroke="rgb(82,82,82)" stroke-width="0.6"/><circle cx="902.7" cy="522.0" r="1.25" fill="none" stroke="rgb(93,93,93)" stroke-width="0.6"/><circle cx="905.3" cy="522.3" r="1.25" fill="none" stroke="rgb(81,81,81)" stroke-width="0.6"/><circle cx="908.1" cy="522.3" r="1.25" fill="none" stroke="rgb(109,109,109)" stroke-width="0.6"/><circle cx="910.6" cy="521.8" r="1.25" fill="none" stroke="rgb(109,109,109)" stroke-width="0.6"/><circle cx="847.0" cy="524.4" r="1.25" fill="none" stroke="rgb(92,92,92)" stroke-width="0.6"/><circle cx="850.1" cy="524.4" r="1.25" fill="none" stroke="rgb(68,68,68)" stroke-width="0.6"/><circle cx="852.5" cy="524.9" r="1.25" fill="none" stroke="rgb(89,89,89)" stroke-width="0.6"/><circle cx="855.8" cy="524.9" r="1.25" fill="none" stroke="rgb(130,130,130)" stroke-width="0.6"/><circle cx="857.8" cy="524.4" r="1.25" fill="none" stroke="rgb(64,64,64)" stroke-width="0.6"/><circle cx="860.8" cy="524.6" r="1.25" fill="none" stroke="rgb(69,69,69)" stroke-width="0.6"/><circle cx="863.6" cy="524.4" r="1.25" fill="none" stroke="rgb(82,82,82)" stroke-width="0.6"/><circle cx="866.0" cy="524.9" r="1.25" fill="none" stroke="rgb(87,87,87)" stroke-width="0.6"/><circle cx="868.8" cy="524.3" r="1.25" fill="none" stroke="rgb(87,87,87)" stroke-width="0.6"/><circle cx="871.8" cy="524.8" r="1.25" fill="none" stroke="rgb(119,119,119)" stroke-width="0.6"/><circle cx="874.6" cy="524.5" r="1.25" fill="none" stroke="rgb(74,74,74)" stroke-width="0.6"/><circle cx="877.3" cy="524.9" r="1.25" fill="none" stroke="rgb(91,91,91)" stroke-width="0.6"/><circle cx="880.0" cy="524.7" r="1.25" fill="none" stroke="rgb(81,81,81)" stroke-width="0.6"/><circle cx="882.2" cy="524.3" r="1.25" fill="none" stroke="rgb(98,98,98)" stroke-width="0.6"/><circle cx="885.5" cy="525.0" r="1.25" fill="none" stroke="rgb(89,89,89)" stroke-width="0.6"/><circle cx="888.0" cy="525.0" r="1.25" fill="none" stroke="rgb(110,110,110)" stroke-width="0.6"/><circle cx="890.6" cy="524.6" r="1.25" fill="none" stroke="rgb(91,91,91)" stroke-width="0.6"/><circle cx="893.0" cy="524.4" r="1.25" fill="none" stroke="rgb(101,101,101)" stroke-width="0.6"/><circle cx="896.3" cy="524.7" r="1.25" fill="none" stroke="rgb(86,86,86)" stroke-width="0.6"/><circle cx="898.5" cy="524.7" r="1.25" fill="none" stroke="rgb(109,109,109)" stroke-width="0.6"/><circle cx="901.3" cy="525.1" r="1.25" fill="none" stroke="rgb(75,75,75)" stroke-width="0.6"/><circle cx="903.9" cy="524.7" r="1.25" fill="none" stroke="rgb(86,86,86)" stroke-width="0.6"/><circle cx="907.0" cy="525.0" r="1.25" fill="none" stroke="rgb(121,121,121)" stroke-width="0.6"/><circle cx="909.5" cy="524.3" r="1.25" fill="none" stroke="rgb(94,94,94)" stroke-width="0.6"/><circle cx="912.2" cy="524.7" r="1.25" fill="none" stroke="rgb(81,81,81)" stroke-width="0.6"/><circle cx="846.2" cy="527.7" r="1.25" fill="none" stroke="rgb(72,72,72)" stroke-width="0.6"/><circle cx="848.8" cy="527.3" r="1.25" fill="none" stroke="rgb(91,91,91)" stroke-width="0.6"/><circle cx="851.7" cy="527.8" r="1.25" fill="none" stroke="rgb(98,98,98)" stroke-width="0.6"/><circle cx="853.9" cy="527.7" r="1.25" fill="none" stroke="rgb(77,77,77)" stroke-width="0.6"/><circle cx="856.7" cy="527.7" r="1.25" fill="none" stroke="rgb(82,82,82)" stroke-width="0.6"/><circle cx="859.3" cy="527.8" r="1.25" fill="none" stroke="rgb(123,123,123)" stroke-width="0.6"/><circle cx="862.1" cy="527.3" r="1.25" fill="none" stroke="rgb(81,81,81)" stroke-width="0.6"/><circle cx="864.6" cy="527.2" r="1.25" fill="none" stroke="rgb(130,130,130)" stroke-width="0.6"/><circle cx="867.3" cy="527.2" r="1.25" fill="none" stroke="rgb(77,77,77)" stroke-width="0.6"/><circle cx="870.0" cy="527.4" r="1.25" fill="none" stroke="rgb(104,104,104)" stroke-width="0.6"/><circle cx="873.3" cy="527.5" r="1.25" fill="none" stroke="rgb(110,110,110)" stroke-width="0.6"/><circle cx="875.3" cy="527.2" r="1.25" fill="none" stroke="rgb(126,126,126)" stroke-width="0.6"/><circle cx="878.1" cy="527.2" r="1.25" fill="none" stroke="rgb(90,90,90)" stroke-width="0.6"/><circle cx="880.9" cy="527.4" r="1.25" fill="none" stroke="rgb(68,68,68)" stroke-width="0.6"/><circle cx="883.6" cy="527.8" r="1.25" fill="none" stroke="rgb(75,75,75)" stroke-width="0.6"/><circle cx="886.8" cy="527.1" r="1.25" fill="none" stroke="rgb(134,134,134)" stroke-width="0.6"/><circle cx="889.3" cy="527.5" r="1.25" fill="none" stroke="rgb(75,75,75)" stroke-width="0.6"/><circle cx="891.5" cy="527.6" r="1.25" fill="none" stroke="rgb(76,76,76)" stroke-width="0.6"/><circle cx="894.4" cy="527.7" r="1.25" fill="none" stroke="rgb(115,115,115)" stroke-width="0.6"/><circle cx="896.9" cy="527.8" r="1.25" fill="none" stroke="rgb(92,92,92)" stroke-width="0.6"/><circle cx="899.9" cy="527.1" r="1.25" fill="none" stroke="rgb(85,85,85)" stroke-width="0.6"/><circle cx="903.1" cy="527.2" r="1.25" fill="none" stroke="rgb(74,74,74)" stroke-width="0.6"/><circle cx="905.1" cy="527.1" r="1.25" fill="none" stroke="rgb(84,84,84)" stroke-width="0.6"/><circle cx="908.4" cy="527.1" r="1.25" fill="none" stroke="rgb(77,77,77)" stroke-width="0.6"/><circle cx="911.2" cy="527.8" r="1.25" fill="none" stroke="rgb(130,130,130)" stroke-width="0.6"/><circle cx="847.1" cy="530.0" r="1.25" fill="none" stroke="rgb(124,124,124)" stroke-width="0.6"/><circle cx="850.0" cy="530.3" r="1.25" fill="none" stroke="rgb(82,82,82)" stroke-width="0.6"/><circle cx="852.4" cy="530.0" r="1.25" fill="none" stroke="rgb(105,105,105)" stroke-width="0.6"/><circle cx="855.7" cy="530.2" r="1.25" fill="none" stroke="rgb(89,89,89)" stroke-width="0.6"/><circle cx="858.2" cy="530.1" r="1.25" fill="none" stroke="rgb(92,92,92)" stroke-width="0.6"/><circle cx="861.1" cy="529.9" r="1.25" fill="none" stroke="rgb(95,95,95)" stroke-width="0.6"/><circle cx="863.9" cy="530.4" r="1.25" fill="none" stroke="rgb(76,76,76)" stroke-width="0.6"/><circle cx="866.6" cy="530.4" r="1.25" fill="none" stroke="rgb(76,76,76)" stroke-width="0.6"/><circle cx="868.8" cy="529.9" r="1.25" fill="none" stroke="rgb(69,69,69)" stroke-width="0.6"/><circle cx="872.0" cy="530.0" r="1.25" fill="none" stroke="rgb(115,115,115)" stroke-width="0.6"/><circle cx="874.0" cy="529.7" r="1.25" fill="none" stroke="rgb(114,114,114)" stroke-width="0.6"/><circle cx="877.3" cy="530.5" r="1.25" fill="none" stroke="rgb(101,101,101)" stroke-width="0.6"/><circle cx="879.8" cy="530.3" r="1.25" fill="none" stroke="rgb(72,72,72)" stroke-width="0.6"/><circle cx="882.5" cy="530.1" r="1.25" fill="none" stroke="rgb(75,75,75)" stroke-width="0.6"/><circle cx="885.2" cy="530.0" r="1.25" fill="none" stroke="rgb(91,91,91)" stroke-width="0.6"/><circle cx="887.7" cy="530.0" r="1.25" fill="none" stroke="rgb(84,84,84)" stroke-width="0.6"/><circle cx="890.6" cy="530.5" r="1.25" fill="none" stroke="rgb(122,122,122)" stroke-width="0.6"/><circle cx="893.5" cy="530.4" r="1.25" fill="none" stroke="rgb(81,81,81)" stroke-width="0.6"/><circle cx="896.3" cy="529.9" r="1.25" fill="none" stroke="rgb(74,74,74)" stroke-width="0.6"/><circle cx="898.7" cy="530.3" r="1.25" fill="none" stroke="rgb(83,83,83)" stroke-width="0.6"/><circle cx="901.5" cy="529.9" r="1.25" fill="none" stroke="rgb(127,127,127)" stroke-width="0.6"/><circle cx="904.0" cy="530.1" r="1.25" fill="none" stroke="rgb(92,92,92)" stroke-width="0.6"/><circle cx="907.0" cy="530.5" r="1.25" fill="none" stroke="rgb(92,92,92)" stroke-width="0.6"/><circle cx="909.4" cy="530.2" r="1.25" fill="none" stroke="rgb(70,70,70)" stroke-width="0.6"/><circle cx="912.1" cy="530.4" r="1.25" fill="none" stroke="rgb(107,107,107)" stroke-width="0.6"/><circle cx="845.6" cy="533.1" r="1.25" fill="none" stroke="rgb(85,85,85)" stroke-width="0.6"/><circle cx="849.1" cy="532.7" r="1.25" fill="none" stroke="rgb(78,78,78)" stroke-width="0.6"/><circle cx="851.4" cy="533.1" r="1.25" fill="none" stroke="rgb(87,87,87)" stroke-width="0.6"/><circle cx="854.4" cy="533.0" r="1.25" fill="none" stroke="rgb(84,84,84)" stroke-width="0.6"/><circle cx="856.6" cy="532.8" r="1.25" fill="none" stroke="rgb(86,86,86)" stroke-width="0.6"/><circle cx="859.4" cy="532.9" r="1.25" fill="none" stroke="rgb(115,115,115)" stroke-width="0.6"/><circle cx="862.3" cy="532.5" r="1.25" fill="none" stroke="rgb(78,78,78)" stroke-width="0.6"/><circle cx="864.8" cy="532.9" r="1.25" fill="none" stroke="rgb(74,74,74)" stroke-width="0.6"/><circle cx="867.3" cy="532.7" r="1.25" fill="none" stroke="rgb(81,81,81)" stroke-width="0.6"/><circle cx="869.9" cy="532.8" r="1.25" fill="none" stroke="rgb(120,120,120)" stroke-width="0.6"/><circle cx="873.0" cy="533.0" r="1.25" fill="none" stroke="rgb(111,111,111)" stroke-width="0.6"/><circle cx="876.0" cy="533.1" r="1.25" fill="none" stroke="rgb(88,88,88)" stroke-width="0.6"/><circle cx="878.5" cy="532.5" r="1.25" fill="none" stroke="rgb(115,115,115)" stroke-width="0.6"/><circle cx="881.0" cy="532.8" r="1.25" fill="none" stroke="rgb(117,117,117)" stroke-width="0.6"/><circle cx="883.6" cy="532.6" r="1.25" fill="none" stroke="rgb(110,110,110)" stroke-width="0.6"/><circle cx="886.6" cy="532.5" r="1.25" fill="none" stroke="rgb(66,66,66)" stroke-width="0.6"/><circle cx="889.1" cy="532.4" r="1.25" fill="none" stroke="rgb(111,111,111)" stroke-width="0.6"/><circle cx="891.6" cy="532.6" r="1.25" fill="none" stroke="rgb(85,85,85)" stroke-width="0.6"/><circle cx="894.6" cy="532.7" r="1.25" fill="none" stroke="rgb(97,97,97)" stroke-width="0.6"/><circle cx="897.4" cy="532.7" r="1.25" fill="none" stroke="rgb(72,72,72)" stroke-width="0.6"/><circle cx="900.4" cy="533.0" r="1.25" fill="none" stroke="rgb(71,71,71)" stroke-width="0.6"/><circle cx="902.7" cy="533.0" r="1.25" fill="none" stroke="rgb(133,133,133)" stroke-width="0.6"/><circle cx="905.1" cy="532.4" r="1.25" fill="none" stroke="rgb(90,90,90)" stroke-width="0.6"/><circle cx="908.0" cy="533.1" r="1.25" fill="none" stroke="rgb(111,111,111)" stroke-width="0.6"/><circle cx="910.7" cy="532.7" r="1.25" fill="none" stroke="rgb(95,95,95)" stroke-width="0.6"/><circle cx="847.7" cy="535.3" r="1.25" fill="none" stroke="rgb(85,85,85)" stroke-width="0.6"/><circle cx="849.7" cy="535.6" r="1.25" fill="none" stroke="rgb(66,66,66)" stroke-width="0.6"/><circle cx="853.1" cy="535.5" r="1.25" fill="none" stroke="rgb(94,94,94)" stroke-width="0.6"/><circle cx="855.1" cy="535.3" r="1.25" fill="none" stroke="rgb(89,89,89)" stroke-width="0.6"/><circle cx="858.4" cy="535.5" r="1.25" fill="none" stroke="rgb(81,81,81)" stroke-width="0.6"/><circle cx="861.2" cy="535.6" r="1.25" fill="none" stroke="rgb(92,92,92)" stroke-width="0.6"/><circle cx="863.3" cy="535.3" r="1.25" fill="none" stroke="rgb(118,118,118)" stroke-width="0.6"/><circle cx="866.0" cy="535.5" r="1.25" fill="none" stroke="rgb(97,97,97)" stroke-width="0.6"/><circle cx="868.8" cy="535.7" r="1.25" fill="none" stroke="rgb(119,119,119)" stroke-width="0.6"/><circle cx="871.9" cy="535.7" r="1.25" fill="none" stroke="rgb(78,78,78)" stroke-width="0.6"/><circle cx="874.0" cy="535.4" r="1.25" fill="none" stroke="rgb(82,82,82)" stroke-width="0.6"/><circle cx="876.8" cy="535.8" r="1.25" fill="none" stroke="rgb(78,78,78)" stroke-width="0.6"/><circle cx="880.0" cy="535.9" r="1.25" fill="none" stroke="rgb(73,73,73)" stroke-width="0.6"/><circle cx="882.8" cy="535.4" r="1.25" fill="none" stroke="rgb(78,78,78)" stroke-width="0.6"/><circle cx="884.9" cy="535.1" r="1.25" fill="none" stroke="rgb(90,90,90)" stroke-width="0.6"/><circle cx="887.8" cy="535.8" r="1.25" fill="none" stroke="rgb(111,111,111)" stroke-width="0.6"/><circle cx="890.2" cy="535.4" r="1.25" fill="none" stroke="rgb(85,85,85)" stroke-width="0.6"/><circle cx="893.0" cy="535.3" r="1.25" fill="none" stroke="rgb(80,80,80)" stroke-width="0.6"/><circle cx="896.1" cy="535.4" r="1.25" fill="none" stroke="rgb(73,73,73)" stroke-width="0.6"/><circle cx="898.4" cy="535.5" r="1.25" fill="none" stroke="rgb(94,94,94)" stroke-width="0.6"/><circle cx="901.1" cy="535.7" r="1.25" fill="none" stroke="rgb(78,78,78)" stroke-width="0.6"/><circle cx="904.2" cy="535.6" r="1.25" fill="none" stroke="rgb(76,76,76)" stroke-width="0.6"/><circle cx="907.0" cy="535.4" r="1.25" fill="none" stroke="rgb(92,92,92)" stroke-width="0.6"/><circle cx="909.5" cy="535.6" r="1.25" fill="none" stroke="rgb(88,88,88)" stroke-width="0.6"/><circle cx="911.8" cy="535.7" r="1.25" fill="none" stroke="rgb(114,114,114)" stroke-width="0.6"/><circle cx="846.0" cy="538.3" r="1.25" fill="none" stroke="rgb(80,80,80)" stroke-width="0.6"/><circle cx="849.0" cy="538.3" r="1.25" fill="none" stroke="rgb(78,78,78)" stroke-width="0.6"/><circle cx="851.7" cy="538.6" r="1.25" fill="none" stroke="rgb(83,83,83)" stroke-width="0.6"/><circle cx="854.5" cy="538.2" r="1.25" fill="none" stroke="rgb(76,76,76)" stroke-width="0.6"/><circle cx="857.0" cy="538.1" r="1.25" fill="none" stroke="rgb(104,104,104)" stroke-width="0.6"/><circle cx="859.6" cy="537.9" r="1.25" fill="none" stroke="rgb(92,92,92)" stroke-width="0.6"/><circle cx="862.5" cy="538.2" r="1.25" fill="none" stroke="rgb(92,92,92)" stroke-width="0.6"/><circle cx="865.2" cy="538.2" r="1.25" fill="none" stroke="rgb(90,90,90)" stroke-width="0.6"/><circle cx="867.7" cy="538.5" r="1.25" fill="none" stroke="rgb(78,78,78)" stroke-width="0.6"/><circle cx="870.0" cy="538.4" r="1.25" fill="none" stroke="rgb(93,93,93)" stroke-width="0.6"/><circle cx="872.8" cy="538.5" r="1.25" fill="none" stroke="rgb(116,116,116)" stroke-width="0.6"/><circle cx="875.7" cy="538.6" r="1.25" fill="none" stroke="rgb(111,111,111)" stroke-width="0.6"/><circle cx="878.6" cy="538.0" r="1.25" fill="none" stroke="rgb(64,64,64)" stroke-width="0.6"/><circle cx="881.2" cy="538.4" r="1.25" fill="none" stroke="rgb(84,84,84)" stroke-width="0.6"/><circle cx="883.8" cy="538.3" r="1.25" fill="none" stroke="rgb(79,79,79)" stroke-width="0.6"/><circle cx="886.7" cy="538.3" r="1.25" fill="none" stroke="rgb(85,85,85)" stroke-width="0.6"/><circle cx="888.9" cy="538.2" r="1.25" fill="none" stroke="rgb(82,82,82)" stroke-width="0.6"/><circle cx="892.1" cy="537.9" r="1.25" fill="none" stroke="rgb(86,86,86)" stroke-width="0.6"/><circle cx="894.4" cy="538.1" r="1.25" fill="none" stroke="rgb(94,94,94)" stroke-width="0.6"/><circle cx="897.0" cy="537.8" r="1.25" fill="none" stroke="rgb(90,90,90)" stroke-width="0.6"/><circle cx="899.8" cy="538.2" r="1.25" fill="none" stroke="rgb(76,76,76)" stroke-width="0.6"/><circle cx="902.4" cy="538.2" r="1.25" fill="none" stroke="rgb(120,120,120)" stroke-width="0.6"/><circle cx="905.7" cy="538.2" r="1.25" fill="none" stroke="rgb(86,86,86)" stroke-width="0.6"/><circle cx="907.8" cy="538.0" r="1.25" fill="none" stroke="rgb(82,82,82)" stroke-width="0.6"/><circle cx="911.2" cy="537.9" r="1.25" fill="none" stroke="rgb(124,124,124)" stroke-width="0.6"/><circle cx="847.3" cy="540.8" r="1.25" fill="none" stroke="rgb(80,80,80)" stroke-width="0.6"/><circle cx="850.4" cy="540.6" r="1.25" fill="none" stroke="rgb(94,94,94)" stroke-width="0.6"/><circle cx="852.8" cy="540.7" r="1.25" fill="none" stroke="rgb(78,78,78)" stroke-width="0.6"/><circle cx="855.8" cy="541.1" r="1.25" fill="none" stroke="rgb(104,104,104)" stroke-width="0.6"/><circle cx="858.5" cy="540.6" r="1.25" fill="none" stroke="rgb(102,102,102)" stroke-width="0.6"/><circle cx="861.1" cy="540.7" r="1.25" fill="none" stroke="rgb(88,88,88)" stroke-width="0.6"/><circle cx="863.9" cy="540.8" r="1.25" fill="none" stroke="rgb(106,106,106)" stroke-width="0.6"/><circle cx="866.0" cy="541.0" r="1.25" fill="none" stroke="rgb(80,80,80)" stroke-width="0.6"/><circle cx="869.0" cy="540.8" r="1.25" fill="none" stroke="rgb(115,115,115)" stroke-width="0.6"/><circle cx="871.8" cy="540.9" r="1.25" fill="none" stroke="rgb(101,101,101)" stroke-width="0.6"/><circle cx="874.3" cy="541.1" r="1.25" fill="none" stroke="rgb(80,80,80)" stroke-width="0.6"/><circle cx="877.1" cy="541.0" r="1.25" fill="none" stroke="rgb(85,85,85)" stroke-width="0.6"/><circle cx="879.4" cy="540.6" r="1.25" fill="none" stroke="rgb(98,98,98)" stroke-width="0.6"/><circle cx="882.2" cy="541.1" r="1.25" fill="none" stroke="rgb(91,91,91)" stroke-width="0.6"/><circle cx="885.5" cy="541.2" r="1.25" fill="none" stroke="rgb(103,103,103)" stroke-width="0.6"/><circle cx="887.7" cy="540.5" r="1.25" fill="none" stroke="rgb(93,93,93)" stroke-width="0.6"/><circle cx="890.7" cy="541.2" r="1.25" fill="none" stroke="rgb(78,78,78)" stroke-width="0.6"/><circle cx="893.0" cy="541.3" r="1.25" fill="none" stroke="rgb(104,104,104)" stroke-width="0.6"/><circle cx="895.9" cy="541.1" r="1.25" fill="none" stroke="rgb(75,75,75)" stroke-width="0.6"/><circle cx="898.7" cy="541.0" r="1.25" fill="none" stroke="rgb(96,96,96)" stroke-width="0.6"/><circle cx="901.1" cy="540.6" r="1.25" fill="none" stroke="rgb(97,97,97)" stroke-width="0.6"/><circle cx="904.4" cy="540.6" r="1.25" fill="none" stroke="rgb(63,63,63)" stroke-width="0.6"/><circle cx="906.4" cy="541.1" r="1.25" fill="none" stroke="rgb(85,85,85)" stroke-width="0.6"/><circle cx="909.4" cy="541.3" r="1.25" fill="none" stroke="rgb(96,96,96)" stroke-width="0.6"/><circle cx="912.0" cy="541.1" r="1.25" fill="none" stroke="rgb(61,61,61)" stroke-width="0.6"/><circle cx="845.8" cy="543.8" r="1.25" fill="none" stroke="rgb(76,76,76)" stroke-width="0.6"/><circle cx="848.3" cy="543.6" r="1.25" fill="none" stroke="rgb(83,83,83)" stroke-width="0.6"/><circle cx="851.8" cy="543.3" r="1.25" fill="none" stroke="rgb(109,109,109)" stroke-width="0.6"/><circle cx="854.0" cy="543.8" r="1.25" fill="none" stroke="rgb(88,88,88)" stroke-width="0.6"/><circle cx="856.9" cy="543.5" r="1.25" fill="none" stroke="rgb(78,78,78)" stroke-width="0.6"/><circle cx="859.5" cy="543.8" r="1.25" fill="none" stroke="rgb(83,83,83)" stroke-width="0.6"/><circle cx="862.0" cy="543.5" r="1.25" fill="none" stroke="rgb(72,72,72)" stroke-width="0.6"/><circle cx="864.8" cy="543.7" r="1.25" fill="none" stroke="rgb(93,93,93)" stroke-width="0.6"/><circle cx="867.7" cy="543.4" r="1.25" fill="none" stroke="rgb(66,66,66)" stroke-width="0.6"/><circle cx="869.9" cy="543.5" r="1.25" fill="none" stroke="rgb(77,77,77)" stroke-width="0.6"/><circle cx="873.1" cy="543.4" r="1.25" fill="none" stroke="rgb(106,106,106)" stroke-width="0.6"/><circle cx="875.8" cy="543.7" r="1.25" fill="none" stroke="rgb(104,104,104)" stroke-width="0.6"/><circle cx="878.4" cy="543.5" r="1.25" fill="none" stroke="rgb(82,82,82)" stroke-width="0.6"/><circle cx="880.8" cy="543.8" r="1.25" fill="none" stroke="rgb(91,91,91)" stroke-width="0.6"/><circle cx="883.5" cy="543.9" r="1.25" fill="none" stroke="rgb(95,95,95)" stroke-width="0.6"/><circle cx="886.6" cy="543.6" r="1.25" fill="none" stroke="rgb(74,74,74)" stroke-width="0.6"/><circle cx="889.6" cy="543.3" r="1.25" fill="none" stroke="rgb(84,84,84)" stroke-width="0.6"/><circle cx="892.3" cy="543.3" r="1.25" fill="none" stroke="rgb(90,90,90)" stroke-width="0.6"/><circle cx="894.6" cy="543.4" r="1.25" fill="none" stroke="rgb(120,120,120)" stroke-width="0.6"/><circle cx="897.2" cy="543.2" r="1.25" fill="none" stroke="rgb(89,89,89)" stroke-width="0.6"/><circle cx="899.6" cy="543.8" r="1.25" fill="none" stroke="rgb(114,114,114)" stroke-width="0.6"/><circle cx="903.0" cy="543.2" r="1.25" fill="none" stroke="rgb(100,100,100)" stroke-width="0.6"/><circle cx="905.2" cy="543.6" r="1.25" fill="none" stroke="rgb(82,82,82)" stroke-width="0.6"/><circle cx="907.9" cy="543.3" r="1.25" fill="none" stroke="rgb(97,97,97)" stroke-width="0.6"/><circle cx="910.5" cy="544.0" r="1.25" fill="none" stroke="rgb(68,68,68)" stroke-width="0.6"/><circle cx="847.7" cy="546.1" r="1.25" fill="none" stroke="rgb(71,71,71)" stroke-width="0.6"/><circle cx="850.2" cy="546.3" r="1.25" fill="none" stroke="rgb(106,106,106)" stroke-width="0.6"/><circle cx="852.8" cy="546.4" r="1.25" fill="none" stroke="rgb(71,71,71)" stroke-width="0.6"/><circle cx="855.6" cy="546.3" r="1.25" fill="none" stroke="rgb(126,126,126)" stroke-width="0.6"/><circle cx="857.8" cy="546.0" r="1.25" fill="none" stroke="rgb(100,100,100)" stroke-width="0.6"/><circle cx="861.2" cy="546.2" r="1.25" fill="none" stroke="rgb(102,102,102)" stroke-width="0.6"/><circle cx="863.6" cy="546.2" r="1.25" fill="none" stroke="rgb(89,89,89)" stroke-width="0.6"/><circle cx="866.3" cy="545.9" r="1.25" fill="none" stroke="rgb(82,82,82)" stroke-width="0.6"/><circle cx="869.1" cy="546.1" r="1.25" fill="none" stroke="rgb(89,89,89)" stroke-width="0.6"/><circle cx="871.5" cy="546.2" r="1.25" fill="none" stroke="rgb(99,99,99)" stroke-width="0.6"/><circle cx="874.5" cy="546.7" r="1.25" fill="none" stroke="rgb(89,89,89)" stroke-width="0.6"/><circle cx="876.8" cy="546.2" r="1.25" fill="none" stroke="rgb(69,69,69)" stroke-width="0.6"/><circle cx="879.5" cy="546.4" r="1.25" fill="none" stroke="rgb(96,96,96)" stroke-width="0.6"/><circle cx="882.2" cy="546.0" r="1.25" fill="none" stroke="rgb(72,72,72)" stroke-width="0.6"/><circle cx="884.9" cy="546.3" r="1.25" fill="none" stroke="rgb(80,80,80)" stroke-width="0.6"/><circle cx="888.2" cy="546.4" r="1.25" fill="none" stroke="rgb(83,83,83)" stroke-width="0.6"/><circle cx="890.5" cy="545.9" r="1.25" fill="none" stroke="rgb(104,104,104)" stroke-width="0.6"/><circle cx="893.5" cy="546.2" r="1.25" fill="none" stroke="rgb(103,103,103)" stroke-width="0.6"/><circle cx="895.8" cy="546.1" r="1.25" fill="none" stroke="rgb(79,79,79)" stroke-width="0.6"/><circle cx="898.4" cy="546.4" r="1.25" fill="none" stroke="rgb(98,98,98)" stroke-width="0.6"/><circle cx="901.5" cy="546.0" r="1.25" fill="none" stroke="rgb(106,106,106)" stroke-width="0.6"/><circle cx="904.0" cy="546.2" r="1.25" fill="none" stroke="rgb(91,91,91)" stroke-width="0.6"/><circle cx="906.7" cy="546.1" r="1.25" fill="none" stroke="rgb(86,86,86)" stroke-width="0.6"/><circle cx="909.6" cy="546.5" r="1.25" fill="none" stroke="rgb(119,119,119)" stroke-width="0.6"/><circle cx="911.9" cy="546.6" r="1.25" fill="none" stroke="rgb(109,109,109)" stroke-width="0.6"/><circle cx="846.2" cy="549.4" r="1.25" fill="none" stroke="rgb(74,74,74)" stroke-width="0.6"/><circle cx="848.9" cy="549.3" r="1.25" fill="none" stroke="rgb(73,73,73)" stroke-width="0.6"/><circle cx="851.5" cy="549.4" r="1.25" fill="none" stroke="rgb(81,81,81)" stroke-width="0.6"/><circle cx="854.4" cy="549.3" r="1.25" fill="none" stroke="rgb(87,87,87)" stroke-width="0.6"/><circle cx="856.5" cy="548.8" r="1.25" fill="none" stroke="rgb(111,111,111)" stroke-width="0.6"/><circle cx="859.4" cy="548.9" r="1.25" fill="none" stroke="rgb(88,88,88)" stroke-width="0.6"/><circle cx="862.5" cy="548.8" r="1.25" fill="none" stroke="rgb(65,65,65)" stroke-width="0.6"/><circle cx="865.3" cy="548.9" r="1.25" fill="none" stroke="rgb(85,85,85)" stroke-width="0.6"/><circle cx="868.0" cy="548.8" r="1.25" fill="none" stroke="rgb(71,71,71)" stroke-width="0.6"/><circle cx="870.6" cy="548.8" r="1.25" fill="none" stroke="rgb(78,78,78)" stroke-width="0.6"/><circle cx="873.4" cy="548.8" r="1.25" fill="none" stroke="rgb(118,118,118)" stroke-width="0.6"/><circle cx="875.6" cy="548.8" r="1.25" fill="none" stroke="rgb(78,78,78)" stroke-width="0.6"/><circle cx="878.4" cy="549.0" r="1.25" fill="none" stroke="rgb(86,86,86)" stroke-width="0.6"/><circle cx="881.1" cy="548.8" r="1.25" fill="none" stroke="rgb(112,112,112)" stroke-width="0.6"/><circle cx="884.1" cy="549.2" r="1.25" fill="none" stroke="rgb(110,110,110)" stroke-width="0.6"/><circle cx="886.2" cy="548.8" r="1.25" fill="none" stroke="rgb(78,78,78)" stroke-width="0.6"/><circle cx="888.9" cy="549.4" r="1.25" fill="none" stroke="rgb(118,118,118)" stroke-width="0.6"/><circle cx="892.2" cy="549.0" r="1.25" fill="none" stroke="rgb(73,73,73)" stroke-width="0.6"/><circle cx="894.5" cy="548.6" r="1.25" fill="none" stroke="rgb(118,118,118)" stroke-width="0.6"/><circle cx="897.1" cy="548.8" r="1.25" fill="none" stroke="rgb(123,123,123)" stroke-width="0.6"/><circle cx="899.8" cy="549.3" r="1.25" fill="none" stroke="rgb(82,82,82)" stroke-width="0.6"/><circle cx="902.8" cy="548.7" r="1.25" fill="none" stroke="rgb(117,117,117)" stroke-width="0.6"/><circle cx="905.3" cy="548.9" r="1.25" fill="none" stroke="rgb(99,99,99)" stroke-width="0.6"/><circle cx="908.2" cy="548.8" r="1.25" fill="none" stroke="rgb(74,74,74)" stroke-width="0.6"/><circle cx="910.9" cy="548.6" r="1.25" fill="none" stroke="rgb(115,115,115)" stroke-width="0.6"/><circle cx="847.2" cy="551.4" r="1.25" fill="none" stroke="rgb(83,83,83)" stroke-width="0.6"/><circle cx="849.7" cy="551.6" r="1.25" fill="none" stroke="rgb(93,93,93)" stroke-width="0.6"/><circle cx="852.7" cy="551.6" r="1.25" fill="none" stroke="rgb(81,81,81)" stroke-width="0.6"/><circle cx="855.4" cy="551.9" r="1.25" fill="none" stroke="rgb(88,88,88)" stroke-width="0.6"/><circle cx="858.4" cy="551.7" r="1.25" fill="none" stroke="rgb(73,73,73)" stroke-width="0.6"/><circle cx="860.6" cy="552.0" r="1.25" fill="none" stroke="rgb(90,90,90)" stroke-width="0.6"/><circle cx="863.5" cy="551.7" r="1.25" fill="none" stroke="rgb(112,112,112)" stroke-width="0.6"/><circle cx="866.2" cy="551.6" r="1.25" fill="none" stroke="rgb(84,84,84)" stroke-width="0.6"/><circle cx="868.6" cy="551.7" r="1.25" fill="none" stroke="rgb(89,89,89)" stroke-width="0.6"/><circle cx="871.6" cy="551.7" r="1.25" fill="none" stroke="rgb(89,89,89)" stroke-width="0.6"/><circle cx="874.5" cy="551.4" r="1.25" fill="none" stroke="rgb(130,130,130)" stroke-width="0.6"/><circle cx="876.7" cy="552.0" r="1.25" fill="none" stroke="rgb(76,76,76)" stroke-width="0.6"/><circle cx="880.0" cy="551.5" r="1.25" fill="none" stroke="rgb(71,71,71)" stroke-width="0.6"/><circle cx="882.5" cy="552.0" r="1.25" fill="none" stroke="rgb(112,112,112)" stroke-width="0.6"/><circle cx="885.5" cy="552.1" r="1.25" fill="none" stroke="rgb(69,69,69)" stroke-width="0.6"/><circle cx="887.8" cy="551.4" r="1.25" fill="none" stroke="rgb(105,105,105)" stroke-width="0.6"/><circle cx="890.5" cy="551.9" r="1.25" fill="none" stroke="rgb(108,108,108)" stroke-width="0.6"/><circle cx="893.6" cy="551.8" r="1.25" fill="none" stroke="rgb(115,115,115)" stroke-width="0.6"/><circle cx="896.0" cy="551.4" r="1.25" fill="none" stroke="rgb(117,117,117)" stroke-width="0.6"/><circle cx="898.3" cy="551.4" r="1.25" fill="none" stroke="rgb(111,111,111)" stroke-width="0.6"/><circle cx="901.2" cy="551.8" r="1.25" fill="none" stroke="rgb(66,66,66)" stroke-width="0.6"/><circle cx="903.8" cy="551.9" r="1.25" fill="none" stroke="rgb(67,67,67)" stroke-width="0.6"/><circle cx="906.8" cy="552.0" r="1.25" fill="none" stroke="rgb(78,78,78)" stroke-width="0.6"/><circle cx="909.6" cy="551.9" r="1.25" fill="none" stroke="rgb(97,97,97)" stroke-width="0.6"/><circle cx="912.4" cy="551.9" r="1.25" fill="none" stroke="rgb(64,64,64)" stroke-width="0.6"/><circle cx="845.8" cy="554.4" r="1.25" fill="none" stroke="rgb(127,127,127)" stroke-width="0.6"/><circle cx="848.5" cy="554.5" r="1.25" fill="none" stroke="rgb(74,74,74)" stroke-width="0.6"/><circle cx="851.7" cy="554.4" r="1.25" fill="none" stroke="rgb(92,92,92)" stroke-width="0.6"/><circle cx="854.2" cy="554.1" r="1.25" fill="none" stroke="rgb(103,103,103)" stroke-width="0.6"/><circle cx="857.0" cy="554.7" r="1.25" fill="none" stroke="rgb(81,81,81)" stroke-width="0.6"/><circle cx="859.3" cy="554.1" r="1.25" fill="none" stroke="rgb(118,118,118)" stroke-width="0.6"/><circle cx="862.2" cy="554.3" r="1.25" fill="none" stroke="rgb(92,92,92)" stroke-width="0.6"/><circle cx="865.1" cy="554.3" r="1.25" fill="none" stroke="rgb(83,83,83)" stroke-width="0.6"/><circle cx="867.8" cy="554.6" r="1.25" fill="none" stroke="rgb(81,81,81)" stroke-width="0.6"/><circle cx="870.0" cy="554.7" r="1.25" fill="none" stroke="rgb(103,103,103)" stroke-width="0.6"/><circle cx="873.1" cy="554.3" r="1.25" fill="none" stroke="rgb(125,125,125)" stroke-width="0.6"/><circle cx="875.6" cy="554.2" r="1.25" fill="none" stroke="rgb(72,72,72)" stroke-width="0.6"/><circle cx="878.3" cy="554.5" r="1.25" fill="none" stroke="rgb(84,84,84)" stroke-width="0.6"/><circle cx="881.5" cy="554.5" r="1.25" fill="none" stroke="rgb(89,89,89)" stroke-width="0.6"/><circle cx="883.9" cy="554.5" r="1.25" fill="none" stroke="rgb(97,97,97)" stroke-width="0.6"/><circle cx="886.5" cy="554.4" r="1.25" fill="none" stroke="rgb(90,90,90)" stroke-width="0.6"/><circle cx="889.5" cy="554.2" r="1.25" fill="none" stroke="rgb(107,107,107)" stroke-width="0.6"/><circle cx="891.7" cy="554.7" r="1.25" fill="none" stroke="rgb(70,70,70)" stroke-width="0.6"/><circle cx="894.6" cy="554.4" r="1.25" fill="none" stroke="rgb(102,102,102)" stroke-width="0.6"/><circle cx="897.1" cy="554.2" r="1.25" fill="none" stroke="rgb(74,74,74)" stroke-width="0.6"/><circle cx="900.0" cy="554.5" r="1.25" fill="none" stroke="rgb(60,60,60)" stroke-width="0.6"/><circle cx="902.4" cy="554.2" r="1.25" fill="none" stroke="rgb(125,125,125)" stroke-width="0.6"/><circle cx="905.4" cy="554.5" r="1.25" fill="none" stroke="rgb(81,81,81)" stroke-width="0.6"/><circle cx="908.2" cy="554.7" r="1.25" fill="none" stroke="rgb(100,100,100)" stroke-width="0.6"/><circle cx="910.4" cy="554.4" r="1.25" fill="none" stroke="rgb(90,90,90)" stroke-width="0.6"/><circle cx="847.0" cy="557.3" r="1.25" fill="none" stroke="rgb(82,82,82)" stroke-width="0.6"/><circle cx="849.9" cy="557.2" r="1.25" fill="none" stroke="rgb(95,95,95)" stroke-width="0.6"/><circle cx="852.7" cy="557.4" r="1.25" fill="none" stroke="rgb(91,91,91)" stroke-width="0.6"/><circle cx="855.3" cy="556.8" r="1.25" fill="none" stroke="rgb(93,93,93)" stroke-width="0.6"/><circle cx="858.0" cy="557.1" r="1.25" fill="none" stroke="rgb(84,84,84)" stroke-width="0.6"/><circle cx="860.5" cy="556.7" r="1.25" fill="none" stroke="rgb(75,75,75)" stroke-width="0.6"/><circle cx="863.2" cy="557.4" r="1.25" fill="none" stroke="rgb(95,95,95)" stroke-width="0.6"/><circle cx="866.0" cy="557.3" r="1.25" fill="none" stroke="rgb(98,98,98)" stroke-width="0.6"/><circle cx="868.6" cy="557.3" r="1.25" fill="none" stroke="rgb(79,79,79)" stroke-width="0.6"/><circle cx="872.0" cy="556.8" r="1.25" fill="none" stroke="rgb(81,81,81)" stroke-width="0.6"/><circle cx="874.1" cy="557.4" r="1.25" fill="none" stroke="rgb(110,110,110)" stroke-width="0.6"/><circle cx="877.1" cy="556.8" r="1.25" fill="none" stroke="rgb(87,87,87)" stroke-width="0.6"/><circle cx="879.9" cy="556.7" r="1.25" fill="none" stroke="rgb(120,120,120)" stroke-width="0.6"/><circle cx="882.7" cy="557.4" r="1.25" fill="none" stroke="rgb(101,101,101)" stroke-width="0.6"/><circle cx="885.2" cy="557.5" r="1.25" fill="none" stroke="rgb(80,80,80)" stroke-width="0.6"/><circle cx="887.7" cy="556.8" r="1.25" fill="none" stroke="rgb(76,76,76)" stroke-width="0.6"/><circle cx="890.8" cy="556.8" r="1.25" fill="none" stroke="rgb(104,104,104)" stroke-width="0.6"/><circle cx="893.2" cy="557.4" r="1.25" fill="none" stroke="rgb(106,106,106)" stroke-width="0.6"/><circle cx="896.1" cy="557.4" r="1.25" fill="none" stroke="rgb(68,68,68)" stroke-width="0.6"/><circle cx="898.5" cy="557.0" r="1.25" fill="none" stroke="rgb(87,87,87)" stroke-width="0.6"/><circle cx="901.5" cy="557.4" r="1.25" fill="none" stroke="rgb(104,104,104)" stroke-width="0.6"/><circle cx="904.4" cy="557.3" r="1.25" fill="none" stroke="rgb(84,84,84)" stroke-width="0.6"/><circle cx="906.8" cy="557.3" r="1.25" fill="none" stroke="rgb(110,110,110)" stroke-width="0.6"/><circle cx="909.3" cy="557.0" r="1.25" fill="none" stroke="rgb(96,96,96)" stroke-width="0.6"/><circle cx="911.9" cy="557.4" r="1.25" fill="none" stroke="rgb(60,60,60)" stroke-width="0.6"/><circle cx="846.1" cy="559.8" r="1.25" fill="none" stroke="rgb(77,77,77)" stroke-width="0.6"/><circle cx="848.8" cy="559.8" r="1.25" fill="none" stroke="rgb(126,126,126)" stroke-width="0.6"/><circle cx="851.7" cy="559.9" r="1.25" fill="none" stroke="rgb(115,115,115)" stroke-width="0.6"/><circle cx="854.4" cy="559.5" r="1.25" fill="none" stroke="rgb(111,111,111)" stroke-width="0.6"/><circle cx="857.1" cy="560.2" r="1.25" fill="none" stroke="rgb(106,106,106)" stroke-width="0.6"/><circle cx="859.4" cy="559.6" r="1.25" fill="none" stroke="rgb(99,99,99)" stroke-width="0.6"/><circle cx="862.0" cy="560.0" r="1.25" fill="none" stroke="rgb(94,94,94)" stroke-width="0.6"/><circle cx="865.2" cy="559.7" r="1.25" fill="none" stroke="rgb(82,82,82)" stroke-width="0.6"/><circle cx="867.9" cy="559.9" r="1.25" fill="none" stroke="rgb(85,85,85)" stroke-width="0.6"/><circle cx="870.3" cy="559.7" r="1.25" fill="none" stroke="rgb(98,98,98)" stroke-width="0.6"/><circle cx="873.0" cy="559.6" r="1.25" fill="none" stroke="rgb(130,130,130)" stroke-width="0.6"/><circle cx="876.0" cy="560.0" r="1.25" fill="none" stroke="rgb(81,81,81)" stroke-width="0.6"/><circle cx="878.2" cy="560.0" r="1.25" fill="none" stroke="rgb(110,110,110)" stroke-width="0.6"/><circle cx="881.2" cy="559.6" r="1.25" fill="none" stroke="rgb(103,103,103)" stroke-width="0.6"/><circle cx="883.8" cy="559.7" r="1.25" fill="none" stroke="rgb(95,95,95)" stroke-width="0.6"/><circle cx="886.5" cy="559.9" r="1.25" fill="none" stroke="rgb(105,105,105)" stroke-width="0.6"/><circle cx="889.6" cy="559.5" r="1.25" fill="none" stroke="rgb(94,94,94)" stroke-width="0.6"/><circle cx="892.3" cy="559.9" r="1.25" fill="none" stroke="rgb(95,95,95)" stroke-width="0.6"/><circle cx="894.9" cy="559.4" r="1.25" fill="none" stroke="rgb(108,108,108)" stroke-width="0.6"/><circle cx="897.4" cy="559.9" r="1.25" fill="none" stroke="rgb(82,82,82)" stroke-width="0.6"/><circle cx="900.1" cy="559.5" r="1.25" fill="none" stroke="rgb(92,92,92)" stroke-width="0.6"/><circle cx="902.5" cy="560.1" r="1.25" fill="none" stroke="rgb(109,109,109)" stroke-width="0.6"/><circle cx="905.4" cy="560.0" r="1.25" fill="none" stroke="rgb(85,85,85)" stroke-width="0.6"/><circle cx="908.1" cy="559.5" r="1.25" fill="none" stroke="rgb(113,113,113)" stroke-width="0.6"/><circle cx="911.0" cy="560.0" r="1.25" fill="none" stroke="rgb(71,71,71)" stroke-width="0.6"/><circle cx="897.8" cy="496.8" r="1.4" fill="rgb(160,160,160)"/><circle cx="881.6" cy="523.7" r="1.2" fill="rgb(200,200,200)"/><circle cx="866.5" cy="548.1" r="1.2" fill="rgb(235,235,235)"/><circle cx="883.3" cy="550.8" r="1.5" fill="rgb(160,160,160)"/><circle cx="851.4" cy="512.2" r="0.9" fill="rgb(200,200,200)"/><circle cx="851.2" cy="511.0" r="0.9" fill="rgb(235,235,235)"/><circle cx="886.6" cy="511.9" r="1.4" fill="rgb(235,235,235)"/><circle cx="850.0" cy="500.8" r="0.8" fill="rgb(200,200,200)"/><circle cx="885.7" cy="537.9" r="0.9" fill="rgb(200,200,200)"/><circle cx="857.5" cy="545.0" r="1.0" fill="rgb(220,220,220)"/><circle cx="878.2" cy="497.5" r="1.4" fill="rgb(200,200,200)"/><circle cx="859.8" cy="546.3" r="1.3" fill="rgb(160,160,160)"/><circle cx="853.8" cy="501.6" r="1.1" fill="rgb(200,200,200)"/><circle cx="865.8" cy="549.3" r="0.8" fill="rgb(220,220,220)"/><circle cx="858.4" cy="540.1" r="1.4" fill="rgb(200,200,200)"/><circle cx="878.0" cy="505.8" r="0.9" fill="rgb(220,220,220)"/><circle cx="877.1" cy="521.9" r="1.4" fill="rgb(200,200,200)"/><circle cx="861.3" cy="515.2" r="1.4" fill="rgb(235,235,235)"/><circle cx="886.7" cy="506.2" r="1.1" fill="rgb(200,200,200)"/><circle cx="894.7" cy="511.1" r="1.4" fill="rgb(200,200,200)"/><circle cx="898.9" cy="531.5" r="1.3" fill="rgb(235,235,235)"/><circle cx="881.6" cy="523.2" r="0.9" fill="rgb(200,200,200)"/><circle cx="874.1" cy="528.1" r="0.8" fill="rgb(220,220,220)"/><circle cx="907.2" cy="532.9" r="0.9" fill="rgb(220,220,220)"/><circle cx="901.9" cy="557.3" r="0.8" fill="rgb(235,235,235)"/><circle cx="876.0" cy="551.3" r="0.7" fill="rgb(160,160,160)"/><circle cx="870.9" cy="549.3" r="1.4" fill="rgb(160,160,160)"/><circle cx="857.2" cy="500.9" r="0.7" fill="rgb(160,160,160)"/><circle cx="907.1" cy="511.2" r="1.1" fill="rgb(235,235,235)"/><circle cx="890.3" cy="514.7" r="1.3" fill="rgb(200,200,200)"/><circle cx="869.3" cy="532.6" r="1.5" fill="rgb(200,200,200)"/><circle cx="866.6" cy="500.4" r="0.8" fill="rgb(235,235,235)"/><circle cx="900.4" cy="540.0" r="1.2" fill="rgb(160,160,160)"/><circle cx="899.9" cy="548.6" r="0.7" fill="rgb(160,160,160)"/><circle cx="868.3" cy="550.0" r="0.9" fill="rgb(235,235,235)"/><circle cx="892.9" cy="516.5" r="1.1" fill="rgb(235,235,235)"/><circle cx="885.9" cy="505.9" r="0.8" fill="rgb(235,235,235)"/><circle cx="883.3" cy="527.3" r="1.0" fill="rgb(200,200,200)"/><circle cx="906.6" cy="535.3" r="1.2" fill="rgb(235,235,235)"/><circle cx="859.1" cy="529.1" r="1.1" fill="rgb(160,160,160)"/><circle cx="887.9" cy="554.2" r="0.8" fill="rgb(220,220,220)"/><circle cx="889.4" cy="538.3" r="0.9" fill="rgb(200,200,200)"/><circle cx="878.4" cy="525.0" r="1.2" fill="rgb(160,160,160)"/><circle cx="871.7" cy="524.1" r="1.5" fill="rgb(235,235,235)"/><circle cx="880.1" cy="546.6" r="0.8" fill="rgb(235,235,235)"/><circle cx="898.0" cy="535.5" r="1.4" fill="rgb(235,235,235)"/><circle cx="851.9" cy="557.9" r="0.9" fill="rgb(160,160,160)"/><circle cx="875.8" cy="502.2" r="1.1" fill="rgb(220,220,220)"/><circle cx="882.3" cy="535.1" r="0.8" fill="rgb(160,160,160)"/><circle cx="853.7" cy="520.3" r="0.9" fill="rgb(160,160,160)"/><circle cx="874.1" cy="497.3" r="1.2" fill="rgb(235,235,235)"/><circle cx="865.1" cy="504.8" r="1.3" fill="rgb(220,220,220)"/><circle cx="849.6" cy="522.3" r="1.2" fill="rgb(160,160,160)"/><circle cx="870.3" cy="555.5" r="0.8" fill="rgb(200,200,200)"/><circle cx="847.3" cy="557.5" r="1.1" fill="rgb(160,160,160)"/><circle cx="862.1" cy="549.5" r="1.2" fill="rgb(220,220,220)"/><circle cx="854.0" cy="532.5" r="1.2" fill="rgb(235,235,235)"/><circle cx="866.2" cy="537.0" r="1.1" fill="rgb(235,235,235)"/><circle cx="893.6" cy="509.1" r="1.4" fill="rgb(200,200,200)"/><circle cx="905.4" cy="496.5" r="1.4" fill="rgb(220,220,220)"/><circle cx="883.0" cy="500.5" r="0.7" fill="rgb(160,160,160)"/><circle cx="899.7" cy="515.4" r="1.2" fill="rgb(220,220,220)"/><circle cx="862.4" cy="523.8" r="0.8" fill="rgb(200,200,200)"/><circle cx="900.7" cy="511.8" r="0.9" fill="rgb(200,200,200)"/><circle cx="867.0" cy="524.6" r="1.0" fill="rgb(200,200,200)"/><circle cx="905.7" cy="517.8" r="1.2" fill="rgb(160,160,160)"/><circle cx="890.6" cy="520.4" r="0.8" fill="rgb(235,235,235)"/><circle cx="905.9" cy="519.0" r="1.4" fill="rgb(235,235,235)"/><circle cx="903.3" cy="507.4" r="1.0" fill="rgb(200,200,200)"/><circle cx="857.9" cy="510.5" r="1.1" fill="rgb(220,220,220)"/>
</g>
<path stroke="#777" stroke-width="1" d="M847,474 h5 M847,477 h4 M847,480 h5 M847,484 h3"/>

<!-- texts -->
<text x="23.50" y="34.2" font-size="39.5" font-weight="bold" fill="#111111" stroke="#111111" stroke-width="1.0" stroke-linejoin="round" letter-spacing="-1.2" textLength="142.90" lengthAdjust="spacingAndGlyphs">Infografica</text>
<text x="177.52" y="34.2" font-size="39.5" font-weight="bold" fill="#111111" stroke="#111111" stroke-width="1.0" stroke-linejoin="round" letter-spacing="-1.2" textLength="41.08" lengthAdjust="spacingAndGlyphs">che</text>
<text x="230.37" y="34.2" font-size="39.5" font-weight="bold" fill="#111111" stroke="#111111" stroke-width="1.0" stroke-linejoin="round" letter-spacing="-1.2" textLength="22.74" lengthAdjust="spacingAndGlyphs">di</text>
<text x="262.56" y="34.2" font-size="39.5" font-weight="bold" fill="#111111" stroke="#111111" stroke-width="1.0" stroke-linejoin="round" letter-spacing="-1.2" textLength="70.56" lengthAdjust="spacingAndGlyphs">flusso</text>
<text x="347.45" y="34.2" font-size="39.5" font-weight="bold" fill="#111111" stroke="#111111" stroke-width="1.0" stroke-linejoin="round" letter-spacing="-1.2" textLength="163.91" lengthAdjust="spacingAndGlyphs">semplificato</text>
<text x="525.01" y="34.2" font-size="39.5" font-weight="bold" fill="#111111" stroke="#111111" stroke-width="1.0" stroke-linejoin="round" letter-spacing="-1.2" textLength="39.16" lengthAdjust="spacingAndGlyphs">del</text>
<text x="573.79" y="34.2" font-size="39.5" font-weight="bold" fill="#111111" stroke="#111111" stroke-width="1.0" stroke-linejoin="round" letter-spacing="-1.2" textLength="121.96" lengthAdjust="spacingAndGlyphs">processo</text>
<text x="709.40" y="34.2" font-size="39.5" font-weight="bold" fill="#111111" stroke="#111111" stroke-width="1.0" stroke-linejoin="round" letter-spacing="-1.2" textLength="22.18" lengthAdjust="spacingAndGlyphs">di</text>
<text x="740.10" y="34.2" font-size="39.5" font-weight="bold" fill="#111111" stroke="#111111" stroke-width="1.0" stroke-linejoin="round" letter-spacing="-1.2" textLength="154.11" lengthAdjust="spacingAndGlyphs">produzione</text>
<text x="908.19" y="34.2" font-size="39.5" font-weight="bold" fill="#111111" stroke="#111111" stroke-width="1.0" stroke-linejoin="round" letter-spacing="-1.2" textLength="22.40" lengthAdjust="spacingAndGlyphs">di</text>
<text x="939.38" y="34.2" font-size="39.5" font-weight="bold" fill="#111111" stroke="#111111" stroke-width="1.0" stroke-linejoin="round" letter-spacing="-1.2" textLength="56.43" lengthAdjust="spacingAndGlyphs">HAp</text>
<text x="689.50" y="78.6" font-size="26.5" font-weight="bold" fill="#ffffff" stroke="#ffffff" stroke-width="0.3" stroke-linejoin="round" letter-spacing="-0.3" textLength="89.98" lengthAdjust="spacingAndGlyphs">dall’urina</text>
<text x="788.50" y="78.6" font-size="26.5" font-weight="bold" fill="#ffffff" stroke="#ffffff" stroke-width="0.3" stroke-linejoin="round" letter-spacing="-0.3" textLength="67.02" lengthAdjust="spacingAndGlyphs">tramite</text>
<text x="862.37" y="78.6" font-size="26.5" font-weight="bold" fill="#ffffff" stroke="#ffffff" stroke-width="0.3" stroke-linejoin="round" letter-spacing="-0.3" textLength="109.64" lengthAdjust="spacingAndGlyphs">estoolleuito</text>
<text x="244.28" y="357.8" font-size="26.5" font-weight="normal" fill="#ffffff" stroke="#ffffff" stroke-width="0.9" stroke-linejoin="round" textLength="172.27" lengthAdjust="spacingAndGlyphs">Infograftolicaretia</text>
<text x="424.62" y="357.8" font-size="26.5" font-weight="normal" fill="#ffffff" stroke="#ffffff" stroke-width="0.9" stroke-linejoin="round" textLength="15.47" lengthAdjust="spacingAndGlyphs">di</text>
<text x="446.53" y="357.8" font-size="26.5" font-weight="normal" fill="#ffffff" stroke="#ffffff" stroke-width="0.9" stroke-linejoin="round" textLength="86.32" lengthAdjust="spacingAndGlyphs">produdaa</text>
<text x="541.60" y="357.8" font-size="26.5" font-weight="normal" fill="#ffffff" stroke="#ffffff" stroke-width="0.9" stroke-linejoin="round" textLength="17.92" lengthAdjust="spacingAndGlyphs">lo</text>
<text x="564.69" y="357.8" font-size="26.5" font-weight="normal" fill="#ffffff" stroke="#ffffff" stroke-width="0.9" stroke-linejoin="round" textLength="41.76" lengthAdjust="spacingAndGlyphs">HAp</text>
<text x="611.31" y="357.8" font-size="26.5" font-weight="normal" fill="#ffffff" stroke="#ffffff" stroke-width="0.9" stroke-linejoin="round" textLength="78.83" lengthAdjust="spacingAndGlyphs">ctpaderi</text>
<text x="239.37" y="140.4" font-size="19" font-weight="normal" fill="#151515" textLength="59.73" lengthAdjust="spacingAndGlyphs">reccoita</text>
<text x="122.14" y="299.3" font-size="19" font-weight="normal" fill="#151515" textLength="36.26" lengthAdjust="spacingAndGlyphs">uriea</text>
<text x="63.36" y="608.6" font-size="25.5" font-weight="bold" fill="#111111" stroke="#111111" stroke-width="0.3" stroke-linejoin="round" textLength="43.66" lengthAdjust="spacingAndGlyphs">dalla</text>
<text x="113.17" y="608.6" font-size="25.5" font-weight="bold" fill="#111111" stroke="#111111" stroke-width="0.3" stroke-linejoin="round" textLength="125.64" lengthAdjust="spacingAndGlyphs">rocnouificict</text>
<text x="117.68" y="636.5" font-size="25.5" font-weight="bold" fill="#111111" stroke="#111111" stroke-width="0.3" stroke-linejoin="round" textLength="71.05" lengthAdjust="spacingAndGlyphs">d’urins</text>
<text x="289.18" y="608.6" font-size="25.5" font-weight="bold" fill="#111111" stroke="#111111" stroke-width="0.3" stroke-linejoin="round" textLength="147.21" lengthAdjust="spacingAndGlyphs">fermentasiene</text>
<text x="444.52" y="608.6" font-size="25.5" font-weight="bold" fill="#111111" stroke="#111111" stroke-width="0.3" stroke-linejoin="round" textLength="37.64" lengthAdjust="spacingAndGlyphs">con</text>
<text x="318.79" y="636.5" font-size="25.5" font-weight="bold" fill="#111111" stroke="#111111" stroke-width="0.3" stroke-linejoin="round" textLength="14.79" lengthAdjust="spacingAndGlyphs">in</text>
<text x="344.95" y="636.5" font-size="25.5" font-weight="bold" fill="#111111" stroke="#111111" stroke-width="0.3" stroke-linejoin="round" textLength="118.00" lengthAdjust="spacingAndGlyphs">osteolfferito</text>
<text x="520.86" y="608.6" font-size="25.5" font-weight="bold" fill="#111111" stroke="#111111" stroke-width="0.3" stroke-linejoin="round" textLength="86.54" lengthAdjust="spacingAndGlyphs">raccolta</text>
<text x="614.60" y="608.6" font-size="25.5" font-weight="bold" fill="#111111" stroke="#111111" stroke-width="0.3" stroke-linejoin="round" textLength="29.92" lengthAdjust="spacingAndGlyphs">dei</text>
<text x="652.08" y="608.6" font-size="25.5" font-weight="bold" fill="#111111" stroke="#111111" stroke-width="0.3" stroke-linejoin="round" textLength="106.86" lengthAdjust="spacingAndGlyphs">precipiteti</text>
<text x="607.13" y="636.5" font-size="25.5" font-weight="bold" fill="#111111" stroke="#111111" stroke-width="0.3" stroke-linejoin="round" textLength="15.67" lengthAdjust="spacingAndGlyphs">di</text>
<text x="630.57" y="636.5" font-size="25.5" font-weight="bold" fill="#111111" stroke="#111111" stroke-width="0.3" stroke-linejoin="round" textLength="42.53" lengthAdjust="spacingAndGlyphs">HAp</text>
<text x="795.92" y="609" font-size="25.5" font-weight="bold" fill="#111111" stroke="#111111" stroke-width="0.3" stroke-linejoin="round" textLength="132.98" lengthAdjust="spacingAndGlyphs">purificeziane</text>
<text x="935.00" y="609" font-size="25.5" font-weight="bold" fill="#111111" stroke="#111111" stroke-width="0.3" stroke-linejoin="round" textLength="33.49" lengthAdjust="spacingAndGlyphs">del</text>
<text x="802.36" y="635" font-size="25.5" font-weight="bold" fill="#111111" stroke="#111111" stroke-width="0.3" stroke-linejoin="round" textLength="85.72" lengthAdjust="spacingAndGlyphs">predutto</text>
<text x="893.66" y="635" font-size="25.5" font-weight="bold" fill="#111111" stroke="#111111" stroke-width="0.3" stroke-linejoin="round" textLength="59.98" lengthAdjust="spacingAndGlyphs">finale</text>
<text x="245.62" y="510" font-size="24" font-weight="bold" fill="#f4f4f0" textLength="22.28" lengthAdjust="spacingAndGlyphs">ıza</text>
<text x="480.72" y="510" font-size="19" font-weight="bold" fill="#f4f4f0" textLength="34.99" lengthAdjust="spacingAndGlyphs">MANA</text>
<text x="735.20" y="510" font-size="19" font-weight="bold" fill="#f4f4f0" textLength="33.92" lengthAdjust="spacingAndGlyphs">PILIAS</text>
</svg>
</body></html>
